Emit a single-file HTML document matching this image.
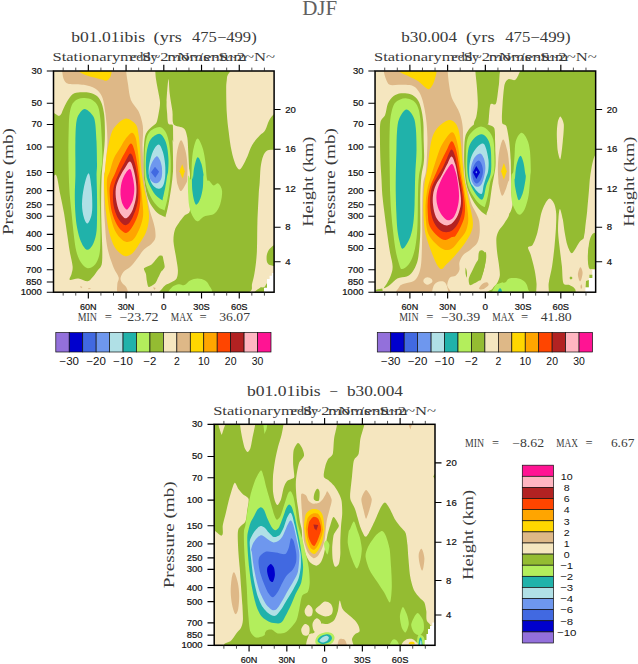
<!DOCTYPE html>
<html><head><meta charset="utf-8"><title>DJF</title>
<style>html,body{margin:0;padding:0;background:#fff;}body{width:638px;height:664px;overflow:hidden;font-family:"Liberation Sans",sans-serif;}svg{display:block}</style>
</head><body>
<svg width="638" height="664" viewBox="0 0 638 664">
<rect width="638" height="664" fill="#fff"/>
<text x="319.7" y="14.6" font-family='"Liberation Serif", serif' font-size="20" text-anchor="middle" fill="#606060" font-weight="normal" textLength="35" lengthAdjust="spacingAndGlyphs" >DJF</text>
<clipPath id="cp1"><rect x="53.5" y="71.0" width="220.60000000000002" height="221.2"/></clipPath>
<g clip-path="url(#cp1)">
<rect x="53.5" y="71.0" width="220.60000000000002" height="221.2" fill="#F5E6BF"/>
<path d="M155.0,62.2 C167.0,60.7 215.3,59.7 227.3,62.2 C239.3,64.7 227.1,72.9 227.0,77.3 C226.8,81.7 226.2,82.6 226.2,88.6 C226.2,94.5 226.4,105.8 226.8,113.0 C227.2,120.2 227.9,125.6 228.7,131.8 C229.4,138.1 230.4,145.3 231.5,150.6 C232.6,156.0 234.0,160.7 235.2,163.8 C236.5,166.9 237.7,169.1 239.0,169.4 C240.3,169.8 241.3,167.9 242.8,165.7 C244.2,163.5 245.9,159.7 247.5,156.3 C249.0,152.8 250.1,148.4 252.2,145.0 C254.2,141.5 257.5,138.1 259.7,135.6 C261.9,133.1 263.8,132.5 265.3,129.9 C266.9,127.4 267.6,123.2 269.1,120.5 C270.6,117.9 272.3,115.5 274.2,114.0 C276.1,112.4 279.3,105.2 280.4,111.1 C281.4,117.1 281.4,143.3 280.4,149.7 C279.3,156.1 276.4,149.5 274.2,149.7 C272.0,149.9 269.1,149.5 267.2,150.6 C265.4,151.7 264.2,153.5 263.1,156.3 C262.0,159.1 261.2,163.2 260.6,167.6 C260.1,172.0 260.0,178.1 259.7,182.6 C259.4,187.2 259.1,188.1 258.7,194.8 C258.4,201.5 257.7,213.6 257.4,223.0 C257.1,232.4 257.3,243.4 256.9,251.2 C256.5,259.1 255.8,264.7 255.0,270.0 C254.2,275.4 253.3,279.4 252.2,283.2 C251.0,287.0 254.0,290.4 248.0,292.6 C242.1,294.8 231.1,295.7 216.4,296.4 C201.8,297.0 169.7,296.8 160.0,296.4 C150.3,295.9 157.8,294.8 158.1,293.6 C158.4,292.3 160.6,290.3 161.9,288.9 C163.1,287.4 164.1,286.2 165.6,285.1 C167.2,284.0 169.5,283.4 171.3,282.3 C173.1,281.2 175.5,280.5 176.6,278.5 C177.6,276.5 178.0,273.6 177.9,270.0 C177.8,266.4 176.7,261.6 176.0,256.9 C175.3,252.2 173.8,246.2 173.5,241.8 C173.3,237.4 173.8,233.7 174.7,230.5 C175.5,227.4 177.2,225.5 178.8,223.0 C180.4,220.5 182.6,217.7 184.5,215.5 C186.3,213.3 189.2,214.8 190.1,209.9 C191.0,204.9 190.3,192.7 190.1,186.0 C189.9,179.3 190.4,175.3 189.2,169.4 C187.9,163.6 185.2,155.3 182.6,150.6 C179.9,145.9 175.7,144.7 173.2,141.2 C170.7,137.8 170.0,132.0 167.5,129.9 C165.0,127.9 160.2,129.6 158.2,129.0 C156.1,128.4 155.1,128.0 155.0,126.6 C154.8,125.2 156.6,122.8 157.2,120.5 C157.8,118.3 158.2,115.8 158.7,113.0 C159.2,110.2 160.0,106.4 160.0,103.6 C160.1,100.8 159.7,99.9 159.1,96.1 C158.5,92.3 156.9,85.1 156.3,81.0 C155.6,77.0 155.5,74.8 155.3,71.6 C155.1,68.5 143.0,63.8 155.0,62.2 Z" fill="#94BC32"/>
<path d="M168.5,79.2 C169.0,77.9 169.1,88.9 169.8,94.2 C170.4,99.5 171.8,106.3 172.4,111.1 C173.0,116.0 172.1,120.8 173.2,123.4 C174.2,125.9 176.9,125.6 178.8,126.6 C180.7,127.5 183.0,127.2 184.5,129.0 C185.9,130.8 186.6,133.9 187.3,137.5 C187.9,141.1 187.9,145.3 188.2,150.6 C188.5,156.0 188.8,163.6 189.2,169.4 C189.5,175.3 190.1,181.8 190.1,186.0 C190.1,190.2 189.5,191.5 189.2,194.8 C188.8,198.2 189.3,202.5 188.2,206.1 C187.1,209.7 185.4,214.7 182.6,216.4 C179.7,218.2 173.0,222.6 171.3,216.4 C169.6,210.3 172.0,187.3 172.4,179.8 C172.8,172.2 173.4,175.2 173.5,171.3 C173.7,167.4 173.6,161.3 173.5,156.3 C173.5,151.3 173.3,145.9 173.2,141.2 C173.1,136.5 173.1,130.8 173.0,128.1 C172.9,125.3 173.2,125.4 172.4,124.7 C171.6,123.9 169.2,125.5 168.3,123.6 C167.4,121.6 167.4,116.7 167.1,113.0 C166.9,109.4 166.4,107.4 166.6,101.7 C166.8,96.1 167.9,80.4 168.5,79.2 Z" fill="#F5E6BF"/>
<path d="M181.1,140.3 C182.4,140.3 184.4,146.7 185.4,150.6 C186.4,154.6 187.0,159.1 187.3,163.8 C187.6,168.5 187.5,175.6 187.3,178.9 C187.1,182.1 187.0,181.5 186.0,183.5 C184.9,185.6 182.4,190.7 181.1,191.0 C179.7,191.4 178.6,187.4 177.9,185.4 C177.1,183.4 176.9,182.1 176.6,178.9 C176.2,175.6 175.9,170.4 176.0,165.7 C176.1,161.0 176.5,154.9 177.3,150.6 C178.2,146.4 179.7,140.3 181.1,140.3 Z" fill="#DEB887"/>
<path d="M182.2,164.2 L184.8,171.3 L182.6,178.5 L179.4,171.3 Z" fill="#FFD700"/>
<path d="M197.6,138.4 C199.0,138.4 201.1,143.3 202.3,146.9 C203.6,150.5 204.4,154.7 205.1,160.0 C205.9,165.4 206.3,175.4 207.0,178.9 C207.7,182.3 208.2,179.6 209.3,180.7 C210.4,181.8 212.1,184.9 213.6,185.4 C215.1,185.9 216.9,182.6 218.3,183.5 C219.7,184.5 221.8,187.6 222.1,191.0 C222.4,194.5 221.4,200.5 220.2,204.2 C218.9,208.0 217.2,211.6 214.5,213.6 C211.9,215.7 207.2,215.2 204.2,216.4 C201.2,217.7 199.0,222.2 196.7,221.1 C194.3,220.0 191.5,214.2 190.1,209.9 C188.7,205.5 188.5,200.5 188.2,194.8 C187.9,189.2 187.7,178.7 188.2,176.0 C188.7,173.3 190.4,181.5 191.0,178.9 C191.7,176.2 191.5,165.4 192.0,160.0 C192.4,154.7 192.9,150.5 193.9,146.9 C194.8,143.3 196.2,138.4 197.6,138.4 Z" fill="#B3EE5C"/>
<path d="M197.6,157.2 C198.8,156.6 200.4,160.8 201.4,163.8 C202.4,166.8 203.3,173.1 203.6,175.1 C203.9,177.1 203.4,174.0 203.3,176.0 C203.1,178.0 203.4,183.5 202.9,187.3 C202.4,191.0 201.5,195.7 200.4,198.6 C199.4,201.5 197.7,204.1 196.7,204.6 C195.7,205.1 195.1,203.6 194.4,201.4 C193.7,199.1 192.8,195.3 192.4,191.0 C191.9,186.8 191.9,178.0 192.0,176.0 C192.1,174.0 192.5,180.3 192.9,178.9 C193.3,177.4 193.4,171.2 194.2,167.6 C195.0,164.0 196.4,157.8 197.6,157.2 Z" fill="#20B2AA"/>
<path d="M159.1,122.4 C156.7,122.5 154.7,124.3 152.5,126.2 C150.3,128.1 147.3,130.6 145.9,133.7 C144.5,136.8 144.5,140.6 144.0,145.0 C143.6,149.4 143.6,155.3 143.5,160.0 C143.4,164.7 143.4,169.9 143.5,173.2 C143.6,176.5 143.5,176.2 144.0,179.8 C144.6,183.4 145.8,190.7 146.9,194.8 C148.0,198.9 148.9,201.2 150.6,204.2 C152.4,207.2 154.9,210.6 157.2,212.7 C159.6,214.8 163.3,216.2 164.7,216.8 C166.1,217.4 165.0,218.5 165.6,216.4 C166.3,214.3 167.5,209.1 168.5,204.2 C169.4,199.4 170.5,192.8 171.3,187.3 C172.0,181.8 172.7,176.5 173.0,171.3 C173.3,166.2 173.0,161.3 173.0,156.3 C172.9,151.3 172.8,145.5 172.6,141.2 C172.4,137.0 172.6,133.5 171.7,130.9 C170.8,128.3 169.2,127.2 167.1,125.8 C165.1,124.4 161.5,122.4 159.1,122.4 Z" fill="#94BC32"/>
<path d="M159.1,127.1 C156.5,127.2 151.9,129.5 149.7,131.8 C147.5,134.2 146.8,137.2 145.9,141.2 C145.1,145.3 144.8,151.3 144.6,156.3 C144.4,161.3 144.5,167.6 144.6,171.3 C144.7,175.1 144.6,176.2 145.0,178.8 C145.4,181.5 145.8,184.0 146.9,187.3 C148.0,190.6 149.7,195.3 151.6,198.6 C153.4,201.9 156.1,205.2 158.2,207.0 C160.2,208.9 162.7,209.4 163.8,209.9 C164.9,210.3 164.1,211.7 164.7,209.9 C165.3,208.0 166.7,203.0 167.5,198.6 C168.4,194.2 169.2,188.1 169.8,183.5 C170.3,179.0 170.6,175.9 170.7,171.3 C170.8,166.8 170.9,161.3 170.5,156.3 C170.2,151.3 169.5,145.4 168.7,141.2 C167.8,137.1 166.9,133.8 165.3,131.5 C163.7,129.1 161.7,127.1 159.1,127.1 Z" fill="#B3EE5C"/>
<path d="M159.1,133.7 C156.8,133.9 152.7,136.5 150.6,139.4 C148.6,142.2 147.6,146.6 146.9,150.6 C146.1,154.7 146.0,159.9 145.9,163.8 C145.8,167.7 146.1,171.6 146.3,174.2 C146.5,176.7 146.5,176.9 147.1,178.8 C147.6,180.7 148.3,182.7 149.7,185.4 C151.1,188.1 153.3,192.4 155.3,194.8 C157.4,197.3 160.7,199.4 161.9,200.1 C163.2,200.7 162.3,200.7 162.8,198.6 C163.4,196.4 164.5,191.0 165.3,187.3 C166.0,183.5 166.7,178.7 167.1,176.0 C167.6,173.3 167.9,174.0 168.1,171.3 C168.3,168.7 168.6,164.1 168.5,160.0 C168.3,156.0 167.9,150.5 167.1,146.9 C166.4,143.3 165.5,140.6 164.1,138.4 C162.8,136.2 161.3,133.6 159.1,133.7 Z" fill="#20B2AA"/>
<path d="M158.7,144.5 C157.1,144.4 154.6,147.8 153.1,151.1 C151.5,154.4 150.0,160.5 149.3,164.3 C148.6,168.0 148.5,170.8 148.7,173.7 C149.0,176.5 149.7,179.0 150.6,181.2 C151.6,183.4 153.0,185.6 154.4,186.8 C155.8,188.1 157.7,188.9 159.1,188.7 C160.5,188.6 161.8,187.8 162.9,185.9 C163.9,184.0 164.7,181.0 165.1,177.4 C165.5,173.8 165.5,168.5 165.1,164.3 C164.7,160.0 163.9,155.3 162.9,152.0 C161.8,148.7 160.3,144.7 158.7,144.5 Z" fill="#B0E0E6"/>
<path d="M156.3,156.4 C155.0,157.1 152.7,160.7 151.6,163.3 C150.4,165.9 149.6,169.2 149.3,171.8 C149.1,174.4 149.2,177.1 150.1,178.9 C150.9,180.8 152.9,182.5 154.4,183.1 C155.9,183.6 157.8,183.3 159.1,182.1 C160.3,180.9 161.5,178.6 161.9,175.9 C162.4,173.3 162.1,168.9 161.7,166.1 C161.3,163.4 160.4,160.8 159.5,159.2 C158.6,157.6 157.6,155.7 156.3,156.4 Z" fill="#6E97EE"/>
<path d="M155.0,166.7 L159.1,171.8 L155.3,177.8 L151.0,172.2 Z" fill="#4169E1"/>
<path d="M48.1,115.8 C50.0,106.6 56.9,116.9 59.4,115.8 C61.9,114.7 61.9,111.6 63.2,109.3 C64.4,106.9 65.4,104.2 66.9,101.7 C68.5,99.2 70.4,95.8 72.6,94.2 C74.8,92.6 77.3,92.6 80.1,92.3 C82.9,92.1 86.7,92.1 89.5,92.7 C92.3,93.3 95.0,94.3 97.0,96.1 C99.1,97.9 100.5,100.5 101.7,103.6 C102.9,106.8 103.6,110.5 104.2,114.9 C104.7,119.3 104.9,124.9 104.9,129.9 C105.0,135.0 104.9,140.0 104.5,145.0 C104.2,150.0 103.5,154.9 103.0,160.0 C102.6,165.2 102.0,170.2 101.7,176.0 C101.4,181.8 101.3,188.5 101.2,194.8 C101.1,201.1 101.1,207.3 101.2,213.6 C101.3,219.9 101.5,226.2 101.7,232.4 C101.9,238.7 102.3,245.9 102.3,251.2 C102.3,256.6 102.4,261.3 101.7,264.4 C101.0,267.5 99.5,267.8 98.0,270.0 C96.4,272.2 94.0,275.7 92.3,277.6 C90.6,279.4 90.0,281.2 87.6,281.3 C85.3,281.5 81.2,278.8 78.2,278.5 C75.2,278.3 70.8,280.6 69.7,279.8 C68.7,279.0 71.2,276.1 71.6,273.8 C72.1,271.5 72.9,270.0 72.6,266.3 C72.3,262.5 70.7,256.9 69.7,251.2 C68.8,245.6 67.9,238.7 66.9,232.4 C66.0,226.2 65.2,219.9 64.1,213.6 C63.0,207.3 61.6,201.1 60.3,194.8 C59.1,188.5 57.8,179.1 56.6,176.0 C55.3,172.9 54.2,176.8 52.8,176.0 C51.4,175.3 48.9,181.4 48.1,171.3 C47.3,161.3 46.2,125.1 48.1,115.8 Z" fill="#94BC32"/>
<path d="M68.8,126.2 C69.0,119.9 69.1,116.8 69.7,113.0 C70.4,109.3 71.2,106.0 72.6,103.6 C74.0,101.3 76.2,99.9 78.2,98.9 C80.3,98.0 82.4,97.8 84.8,98.0 C87.1,98.1 90.1,98.4 92.3,99.9 C94.5,101.3 96.6,103.3 98.0,106.4 C99.3,109.6 99.8,113.5 100.4,118.7 C101.0,123.8 101.4,130.6 101.7,137.5 C102.0,144.4 102.5,153.6 102.3,160.0 C102.1,166.5 100.8,170.2 100.4,176.0 C100.0,181.8 99.8,187.0 99.8,194.8 C99.8,202.6 100.3,215.2 100.4,223.0 C100.5,230.9 100.6,236.5 100.4,241.8 C100.2,247.2 100.2,251.2 99.3,255.0 C98.4,258.8 97.1,262.2 95.1,264.4 C93.2,266.6 90.0,268.5 87.6,268.2 C85.3,267.8 82.9,265.3 81.0,262.5 C79.2,259.7 77.6,256.3 76.3,251.2 C75.1,246.2 74.3,238.7 73.5,232.4 C72.7,226.2 72.3,219.9 71.6,213.6 C71.0,207.3 70.2,201.1 69.7,194.8 C69.3,188.5 69.0,183.4 68.8,176.0 C68.6,168.6 68.4,158.9 68.4,150.6 C68.4,142.3 68.6,132.5 68.8,126.2 Z" fill="#B3EE5C"/>
<path d="M84.8,108.9 C87.0,109.0 90.6,112.6 92.3,114.9 C94.0,117.2 94.5,118.0 95.1,122.4 C95.8,126.8 96.1,134.3 96.5,141.2 C96.8,148.1 97.0,158.0 97.0,163.8 C97.1,169.6 96.6,170.8 96.6,176.0 C96.6,181.2 97.0,187.6 97.0,194.8 C97.1,202.0 97.2,212.7 97.0,219.3 C96.9,225.8 96.9,229.9 96.1,234.3 C95.3,238.7 93.9,243.0 92.3,245.6 C90.8,248.2 88.6,250.4 86.7,249.7 C84.8,249.1 82.6,245.3 81.0,241.8 C79.5,238.3 78.2,233.4 77.3,228.7 C76.3,224.0 75.8,219.3 75.4,213.6 C75.0,208.0 74.8,201.1 74.8,194.8 C74.8,188.5 75.3,181.8 75.4,176.0 C75.5,170.2 75.4,165.8 75.4,160.0 C75.4,154.2 75.2,147.5 75.4,141.2 C75.5,135.0 75.7,127.0 76.3,122.4 C77.0,117.9 77.7,116.2 79.2,114.0 C80.6,111.7 82.6,108.7 84.8,108.9 Z" fill="#20B2AA"/>
<path d="M88.6,173.2 C89.8,173.2 90.8,182.1 91.4,187.3 C92.0,192.5 92.3,199.5 92.3,204.2 C92.3,208.9 92.2,212.3 91.4,215.5 C90.6,218.7 88.9,223.1 87.6,223.4 C86.4,223.7 84.8,220.6 83.9,217.4 C82.9,214.2 82.0,209.2 82.0,204.2 C82.0,199.2 82.8,192.5 83.9,187.3 C85.0,182.1 87.3,173.2 88.6,173.2 Z" fill="#B0E0E6"/>
<path d="M62.2,66.0 C51.6,66.9 61.9,69.3 62.2,71.6 C62.5,74.0 63.0,78.1 64.1,80.1 C65.2,82.1 65.5,83.1 68.8,83.9 C72.1,84.7 79.5,84.0 83.9,84.8 C88.2,85.6 92.2,86.7 95.1,88.6 C98.1,90.5 100.2,93.0 101.7,96.1 C103.3,99.2 103.8,103.0 104.5,107.4 C105.3,111.8 106.0,116.8 106.4,122.4 C106.9,128.1 107.4,135.6 107.4,141.2 C107.4,146.9 106.8,151.3 106.4,156.3 C106.0,161.3 105.3,168.0 104.9,171.3 C104.5,174.6 104.1,170.5 104.0,176.0 C103.8,181.5 103.8,196.4 104.0,204.2 C104.1,212.1 104.5,216.8 104.9,223.0 C105.3,229.3 105.7,236.5 106.4,241.8 C107.1,247.2 108.0,250.6 109.2,255.0 C110.5,259.4 112.4,264.4 113.9,268.2 C115.5,271.9 118.1,274.9 118.7,277.6 C119.2,280.2 117.4,281.5 117.3,284.2 C117.2,286.8 116.4,292.0 118.1,293.6 C119.8,295.1 126.1,294.7 127.5,293.6 C128.8,292.5 127.0,288.7 126.2,287.0 C125.3,285.2 123.4,284.6 122.4,283.2 C121.5,281.8 120.4,280.4 120.5,278.5 C120.7,276.6 121.6,274.0 123.4,271.9 C125.1,269.9 128.4,268.8 130.9,266.3 C133.4,263.8 136.2,259.7 138.4,256.9 C140.6,254.1 141.8,251.5 144.0,249.4 C146.2,247.2 149.7,245.6 151.6,243.7 C153.4,241.8 154.8,240.6 155.3,238.1 C155.9,235.6 155.4,231.8 155.0,228.7 C154.5,225.5 153.4,222.4 152.5,219.3 C151.6,216.1 150.5,213.3 149.7,209.9 C148.8,206.4 148.2,202.6 147.4,198.6 C146.6,194.5 145.6,189.9 145.0,185.4 C144.3,180.9 143.8,176.2 143.5,171.3 C143.1,166.5 143.1,160.7 142.9,156.3 C142.8,151.9 142.5,149.2 142.5,145.0 C142.6,140.8 143.2,134.7 143.1,130.9 C143.0,127.1 142.9,125.7 142.2,122.4 C141.4,119.1 140.3,114.9 138.4,111.1 C136.5,107.4 132.6,104.2 130.9,99.9 C129.2,95.5 128.8,89.5 128.1,84.8 C127.3,80.1 126.5,74.8 126.2,71.6 C125.9,68.5 136.8,66.9 126.2,66.0 C115.5,65.1 72.9,65.1 62.2,66.0 Z" fill="#DEB887"/>
<path d="M79.2,66.0 C73.7,66.9 77.7,70.0 79.2,71.6 C80.6,73.3 84.0,74.5 87.6,75.8 C91.2,77.0 97.6,78.4 100.8,79.2 C103.9,80.0 104.9,81.0 106.4,80.7 C108.0,80.4 109.3,78.8 110.2,77.3 C111.1,75.8 111.4,73.5 111.7,71.6 C111.9,69.8 117.1,66.9 111.7,66.0 C106.3,65.1 84.6,65.1 79.2,66.0 Z" fill="#FFD700"/>
<path d="M125.2,118.7 C128.8,118.0 133.4,121.8 135.6,124.3 C137.8,126.8 137.7,129.9 138.4,133.7 C139.1,137.5 139.5,141.9 139.9,146.9 C140.3,151.9 140.5,159.0 140.8,163.8 C141.2,168.7 141.6,172.1 142.2,176.0 C142.7,179.9 143.3,183.2 144.0,187.3 C144.8,191.4 146.1,196.4 146.9,200.5 C147.6,204.5 148.4,208.3 148.7,211.7 C149.1,215.2 149.2,217.7 148.7,221.1 C148.3,224.6 147.5,228.7 145.9,232.4 C144.4,236.2 141.5,240.3 139.3,243.7 C137.1,247.2 134.8,251.1 132.8,253.1 C130.7,255.2 128.8,255.6 127.1,255.9 C125.4,256.3 124.5,256.4 122.4,255.0 C120.4,253.6 117.1,251.2 114.9,247.5 C112.7,243.7 110.7,238.1 109.2,232.4 C107.8,226.8 106.8,219.9 106.1,213.6 C105.3,207.3 104.9,200.5 104.5,194.8 C104.2,189.2 103.9,183.7 104.0,179.8 C104.0,175.8 104.5,175.2 104.9,171.3 C105.3,167.4 105.7,161.3 106.4,156.3 C107.1,151.3 108.0,145.9 109.2,141.2 C110.5,136.5 111.3,131.8 113.9,128.1 C116.6,124.3 121.6,119.3 125.2,118.7 Z" fill="#FFD700"/>
<path d="M131.8,132.8 C133.5,132.5 134.6,134.8 135.6,137.5 C136.5,140.1 136.8,144.4 137.5,148.8 C138.1,153.1 138.9,159.3 139.3,163.8 C139.8,168.3 139.8,172.1 140.1,176.0 C140.4,179.9 140.8,182.9 141.2,187.3 C141.6,191.7 142.2,197.6 142.5,202.3 C142.9,207.0 143.5,211.4 143.1,215.5 C142.7,219.6 141.7,223.0 140.3,226.8 C138.9,230.5 136.5,235.6 134.6,238.1 C132.8,240.6 131.0,241.5 129.0,241.8 C127.0,242.1 124.8,241.8 122.4,239.9 C120.1,238.1 117.0,234.9 114.9,230.5 C112.8,226.2 111.1,219.6 109.8,213.6 C108.6,207.7 107.8,200.5 107.4,194.8 C106.9,189.2 106.6,183.7 107.0,179.8 C107.4,175.8 108.7,174.9 109.8,171.3 C111.0,167.7 112.3,161.9 113.9,158.2 C115.6,154.4 117.7,151.9 119.6,148.8 C121.5,145.6 123.2,142.0 125.2,139.4 C127.3,136.7 130.1,133.1 131.8,132.8 Z" fill="#FFA500"/>
<path d="M130.9,143.6 C132.4,143.4 133.5,147.3 134.6,151.1 C135.7,154.9 136.6,160.5 137.5,166.1 C138.3,171.8 139.4,179.3 139.9,184.9 C140.4,190.6 140.5,195.3 140.3,200.0 C140.0,204.7 139.5,209.1 138.4,213.2 C137.3,217.2 135.4,221.3 133.7,224.4 C132.0,227.6 129.8,230.7 128.1,232.0 C126.3,233.2 125.2,233.2 123.4,232.0 C121.5,230.7 118.7,227.9 116.8,224.4 C114.8,221.0 112.9,216.0 111.7,211.3 C110.5,206.6 110.1,200.6 109.8,196.2 C109.6,191.8 109.3,188.7 110.2,184.9 C111.0,181.2 113.3,177.4 114.9,173.7 C116.5,169.9 117.9,166.0 119.6,162.4 C121.3,158.8 123.4,155.2 125.2,152.0 C127.1,148.9 129.3,143.7 130.9,143.6 Z" fill="#FF4500"/>
<path d="M130.5,153.4 C132.1,153.5 133.5,158.4 134.6,162.4 C135.8,166.4 136.8,172.1 137.5,177.4 C138.1,182.8 138.5,189.7 138.4,194.4 C138.3,199.1 137.8,201.9 136.9,205.6 C136.0,209.4 134.2,213.9 132.8,216.9 C131.3,220.0 129.6,222.8 128.1,224.1 C126.5,225.3 125.1,225.6 123.4,224.4 C121.6,223.3 119.0,220.1 117.3,216.9 C115.7,213.8 114.3,209.7 113.6,205.6 C112.9,201.6 112.8,196.2 113.0,192.5 C113.2,188.7 113.8,186.5 114.9,183.1 C116.0,179.6 117.9,175.4 119.6,171.8 C121.3,168.2 123.4,164.5 125.2,161.4 C127.1,158.4 128.9,153.2 130.5,153.4 Z" fill="#B22222"/>
<path d="M129.9,161.4 C131.5,161.6 132.7,166.3 133.7,169.9 C134.7,173.5 135.7,178.7 136.1,183.1 C136.6,187.5 136.7,191.8 136.1,196.2 C135.6,200.6 134.1,206.0 132.8,209.4 C131.4,212.8 129.5,215.5 128.1,216.9 C126.6,218.3 125.8,218.8 124.3,217.9 C122.8,216.9 120.6,214.3 119.2,211.3 C117.9,208.3 116.8,203.8 116.2,200.0 C115.6,196.2 115.4,192.2 115.8,188.7 C116.2,185.3 117.2,182.6 118.7,179.3 C120.1,176.0 122.4,171.9 124.3,169.0 C126.2,166.0 128.4,161.3 129.9,161.4 Z" fill="#FFB6C1"/>
<path d="M129.9,169.0 C131.3,169.3 132.0,174.1 132.8,177.4 C133.5,180.7 134.3,184.9 134.3,188.7 C134.3,192.5 133.6,196.9 132.8,200.0 C131.9,203.1 130.1,206.0 129.0,207.5 C127.9,209.1 127.3,210.0 126.2,209.4 C125.1,208.8 123.4,206.3 122.4,203.8 C121.5,201.3 120.8,197.5 120.5,194.4 C120.3,191.2 120.5,188.1 121.1,184.9 C121.7,181.8 122.8,178.2 124.3,175.5 C125.8,172.9 128.5,168.6 129.9,169.0 Z" fill="#FF1493"/>
<path d="M144.0,268.2 C144.7,267.1 149.8,265.8 151.6,264.4 C153.3,263.0 157.8,256.8 159.1,255.9 C160.4,255.1 162.3,255.7 162.9,256.9 C163.4,258.1 163.9,266.5 163.8,266.3 C163.7,266.1 162.2,255.0 162.3,255.0 C162.4,255.0 164.6,264.5 164.7,266.3 C164.8,268.0 163.3,269.4 162.8,270.0 C162.4,270.7 161.5,271.0 161.0,271.9 C160.4,272.8 158.8,276.3 158.2,277.6 C157.5,278.9 156.4,282.1 155.3,283.2 C154.2,284.3 149.7,287.2 148.7,287.0 C147.8,286.8 147.2,282.9 146.9,281.3 C146.5,279.8 146.3,275.3 145.9,273.8 C145.6,272.3 143.4,269.3 144.0,268.2 Z" fill="#94BC32"/>
<path d="M171.3,293.6 C165.1,292.5 171.0,288.5 172.2,287.0 C173.5,285.4 176.8,284.5 178.8,284.2 C180.8,283.8 182.6,285.7 184.5,285.1 C186.3,284.5 187.9,281.5 190.1,280.4 C192.3,279.3 195.1,278.5 197.6,278.5 C200.1,278.5 203.3,279.3 205.1,280.4 C207.0,281.5 208.2,282.9 208.9,285.1 C209.6,287.3 215.5,292.1 209.3,293.6 C203.0,295.0 177.5,294.7 171.3,293.6 Z" fill="#B3EE5C"/>
<path d="M276.6,245.6 C275.5,242.9 271.7,246.8 270.0,248.4 C268.4,250.0 267.3,252.6 266.8,255.0 C266.4,257.3 266.5,260.8 267.2,262.5 C267.9,264.2 269.4,265.0 271.0,265.3 C272.5,265.7 275.7,267.7 276.6,264.4 C277.6,261.1 277.7,248.3 276.6,245.6 Z" fill="#94BC32"/>
<path d="M255.0,293.6 C252.2,292.6 258.1,289.0 259.7,287.9 C261.3,286.8 263.0,287.9 264.4,287.0 C265.8,286.0 266.1,283.2 268.2,282.3 C270.2,281.3 275.2,279.4 276.6,281.3 C278.0,283.2 280.2,291.5 276.6,293.6 C273.0,295.6 257.8,294.5 255.0,293.6 Z" fill="#94BC32"/>
<path d="M271.9,272.9 L276.0,272.9 L276.0,294.0 L264.0,294.0 L264.0,287.8 L267.0,287.8 L267.0,279.0 L269.6,279.0 L269.6,275.7 L271.9,275.7 Z" fill="#fff"/>
<path d="M80.1,286.0 L82.4,287.0 L81.0,288.3 Z" fill="#DEB887"/>
<path d="M88.2,287.9 L91.4,288.5 L88.6,289.2 Z" fill="#DEB887"/>
<path d="M153.1,287.3 L155.7,288.1 L154.4,290.0 Z" fill="#DEB887"/>
</g>
<rect x="53.5" y="71.0" width="220.60000000000002" height="221.2" fill="none" stroke="#000" stroke-width="1.5"/>
<path d="M239.26,292.2 v6.3 M239.26,71.0 v-6.3 M201.53,292.2 v6.3 M201.53,71.0 v-6.3 M163.80,292.2 v6.3 M163.80,71.0 v-6.3 M126.07,292.2 v6.3 M126.07,71.0 v-6.3 M88.34,292.2 v6.3 M88.34,71.0 v-6.3 M53.5,71.00 h-6.7 M53.5,103.22 h-6.7 M53.5,124.45 h-6.7 M53.5,146.95 h-6.7 M53.5,172.53 h-6.7 M53.5,190.67 h-6.7 M53.5,204.75 h-6.7 M53.5,216.25 h-6.7 M53.5,234.40 h-6.7 M53.5,248.48 h-6.7 M53.5,269.70 h-6.7 M53.5,281.95 h-6.7 M53.5,292.20 h-6.7 M274.1,109.50 h6.5 M274.1,149.20 h6.5 M274.1,188.90 h6.5 M274.1,227.20 h6.5 M274.1,261.70 h6.5" stroke="#000" stroke-width="1.15" fill="none"/>
<path d="M264.42,292.2 v3.4 M264.42,71.0 v-3.4 M251.84,292.2 v3.4 M251.84,71.0 v-3.4 M226.68,292.2 v3.4 M226.68,71.0 v-3.4 M214.11,292.2 v3.4 M214.11,71.0 v-3.4 M188.95,292.2 v3.4 M188.95,71.0 v-3.4 M176.38,292.2 v3.4 M176.38,71.0 v-3.4 M151.22,292.2 v3.4 M151.22,71.0 v-3.4 M138.65,292.2 v3.4 M138.65,71.0 v-3.4 M113.49,292.2 v3.4 M113.49,71.0 v-3.4 M100.92,292.2 v3.4 M100.92,71.0 v-3.4 M75.76,292.2 v3.4 M75.76,71.0 v-3.4 M63.18,292.2 v3.4 M63.18,71.0 v-3.4" stroke="#222" stroke-width="0.8" fill="none"/>
<text x="41.9" y="74.0" font-family='"Liberation Sans", sans-serif' font-size="8.4" text-anchor="end" fill="#111" font-weight="normal" textLength="10.5" lengthAdjust="spacingAndGlyphs" stroke="#111" stroke-width="0.2">30</text>
<text x="41.9" y="106.22380216890116" font-family='"Liberation Sans", sans-serif' font-size="8.4" text-anchor="end" fill="#111" font-weight="normal" textLength="10.5" lengthAdjust="spacingAndGlyphs" stroke="#111" stroke-width="0.2">50</text>
<text x="41.9" y="127.44907804342657" font-family='"Liberation Sans", sans-serif' font-size="8.4" text-anchor="end" fill="#111" font-weight="normal" textLength="10.5" lengthAdjust="spacingAndGlyphs" stroke="#111" stroke-width="0.2">70</text>
<text x="41.9" y="149.94877715278596" font-family='"Liberation Sans", sans-serif' font-size="8.4" text-anchor="end" fill="#111" font-weight="normal" textLength="15.8" lengthAdjust="spacingAndGlyphs" stroke="#111" stroke-width="0.2">100</text>
<text x="41.9" y="175.52624786332922" font-family='"Liberation Sans", sans-serif' font-size="8.4" text-anchor="end" fill="#111" font-weight="normal" textLength="15.8" lengthAdjust="spacingAndGlyphs" stroke="#111" stroke-width="0.2">150</text>
<text x="41.9" y="193.67375213667077" font-family='"Liberation Sans", sans-serif' font-size="8.4" text-anchor="end" fill="#111" font-weight="normal" textLength="15.8" lengthAdjust="spacingAndGlyphs" stroke="#111" stroke-width="0.2">200</text>
<text x="41.9" y="207.75005003223038" font-family='"Liberation Sans", sans-serif' font-size="8.4" text-anchor="end" fill="#111" font-weight="normal" textLength="15.8" lengthAdjust="spacingAndGlyphs" stroke="#111" stroke-width="0.2">250</text>
<text x="41.9" y="219.25122284721402" font-family='"Liberation Sans", sans-serif' font-size="8.4" text-anchor="end" fill="#111" font-weight="normal" textLength="15.8" lengthAdjust="spacingAndGlyphs" stroke="#111" stroke-width="0.2">300</text>
<text x="41.9" y="237.39872712055558" font-family='"Liberation Sans", sans-serif' font-size="8.4" text-anchor="end" fill="#111" font-weight="normal" textLength="15.8" lengthAdjust="spacingAndGlyphs" stroke="#111" stroke-width="0.2">400</text>
<text x="41.9" y="251.47502501611518" font-family='"Liberation Sans", sans-serif' font-size="8.4" text-anchor="end" fill="#111" font-weight="normal" textLength="15.8" lengthAdjust="spacingAndGlyphs" stroke="#111" stroke-width="0.2">500</text>
<text x="41.9" y="272.7003008906406" font-family='"Liberation Sans", sans-serif' font-size="8.4" text-anchor="end" fill="#111" font-weight="normal" textLength="15.8" lengthAdjust="spacingAndGlyphs" stroke="#111" stroke-width="0.2">700</text>
<text x="41.9" y="284.948012650131" font-family='"Liberation Sans", sans-serif' font-size="8.4" text-anchor="end" fill="#111" font-weight="normal" textLength="15.8" lengthAdjust="spacingAndGlyphs" stroke="#111" stroke-width="0.2">850</text>
<text x="41.9" y="295.2" font-family='"Liberation Sans", sans-serif' font-size="8.4" text-anchor="end" fill="#111" font-weight="normal" textLength="21.1" lengthAdjust="spacingAndGlyphs" stroke="#111" stroke-width="0.2">1000</text>
<text x="285.20000000000005" y="112.55" font-family='"Liberation Sans", sans-serif' font-size="8.6" text-anchor="start" fill="#111" font-weight="normal" textLength="10.6" lengthAdjust="spacingAndGlyphs" stroke="#111" stroke-width="0.2">20</text>
<text x="285.20000000000005" y="152.25" font-family='"Liberation Sans", sans-serif' font-size="8.6" text-anchor="start" fill="#111" font-weight="normal" textLength="10.6" lengthAdjust="spacingAndGlyphs" stroke="#111" stroke-width="0.2">16</text>
<text x="285.20000000000005" y="191.95000000000002" font-family='"Liberation Sans", sans-serif' font-size="8.6" text-anchor="start" fill="#111" font-weight="normal" textLength="10.6" lengthAdjust="spacingAndGlyphs" stroke="#111" stroke-width="0.2">12</text>
<text x="285.20000000000005" y="230.25" font-family='"Liberation Sans", sans-serif' font-size="8.6" text-anchor="start" fill="#111" font-weight="normal" textLength="5.3" lengthAdjust="spacingAndGlyphs" stroke="#111" stroke-width="0.2">8</text>
<text x="285.20000000000005" y="264.75" font-family='"Liberation Sans", sans-serif' font-size="8.6" text-anchor="start" fill="#111" font-weight="normal" textLength="5.3" lengthAdjust="spacingAndGlyphs" stroke="#111" stroke-width="0.2">4</text>
<text x="88.33819840364882" y="310.3" font-family='"Liberation Sans", sans-serif' font-size="8.8" text-anchor="middle" fill="#111" font-weight="normal" textLength="16.6" lengthAdjust="spacingAndGlyphs" stroke="#111" stroke-width="0.2">60N</text>
<text x="126.06909920182441" y="310.3" font-family='"Liberation Sans", sans-serif' font-size="8.8" text-anchor="middle" fill="#111" font-weight="normal" textLength="16.6" lengthAdjust="spacingAndGlyphs" stroke="#111" stroke-width="0.2">30N</text>
<text x="163.8" y="310.3" font-family='"Liberation Sans", sans-serif' font-size="8.8" text-anchor="middle" fill="#111" font-weight="normal" textLength="5.5" lengthAdjust="spacingAndGlyphs" stroke="#111" stroke-width="0.2">0</text>
<text x="201.5309007981756" y="310.3" font-family='"Liberation Sans", sans-serif' font-size="8.8" text-anchor="middle" fill="#111" font-weight="normal" textLength="16.6" lengthAdjust="spacingAndGlyphs" stroke="#111" stroke-width="0.2">30S</text>
<text x="239.2618015963512" y="310.3" font-family='"Liberation Sans", sans-serif' font-size="8.8" text-anchor="middle" fill="#111" font-weight="normal" textLength="16.6" lengthAdjust="spacingAndGlyphs" stroke="#111" stroke-width="0.2">60S</text>
<text x="0" y="0" font-family='"Liberation Serif", serif' font-size="15" text-anchor="middle" fill="#3a3a3a" font-weight="normal" textLength="107" lengthAdjust="spacingAndGlyphs" transform="translate(13.0,181.6) rotate(-90)">Pressure (mb)</text>
<text x="0" y="0" font-family='"Liberation Serif", serif' font-size="15" text-anchor="middle" fill="#3a3a3a" font-weight="normal" textLength="90" lengthAdjust="spacingAndGlyphs" transform="translate(312.5,181.6) rotate(-90)">Height (km)</text>
<text x="71.3" y="42.4" font-family='"Liberation Serif", serif' font-size="14.5" text-anchor="start" fill="#3a3a3a" font-weight="normal" textLength="73.7" lengthAdjust="spacingAndGlyphs" >b01.01ibis</text>
<text x="153.6" y="42.4" font-family='"Liberation Serif", serif' font-size="14.5" text-anchor="start" fill="#3a3a3a" font-weight="normal" textLength="28.3" lengthAdjust="spacingAndGlyphs" >(yrs</text>
<text x="192" y="42.4" font-family='"Liberation Serif", serif' font-size="14.5" text-anchor="start" fill="#3a3a3a" font-weight="normal" textLength="64.7" lengthAdjust="spacingAndGlyphs" >475−499)</text>
<text x="52.5" y="61.4" font-family='"Liberation Serif", serif' font-size="13.5" text-anchor="start" fill="#3a3a3a" font-weight="normal" textLength="67.8" lengthAdjust="spacingAndGlyphs" >Stationary</text>
<text x="130.0" y="61.4" font-family='"Liberation Serif", serif' font-size="13.5" text-anchor="start" fill="#3a3a3a" font-weight="normal" textLength="27.5" lengthAdjust="spacingAndGlyphs" >eddy</text>
<text x="167.3" y="61.4" font-family='"Liberation Serif", serif' font-size="13.5" text-anchor="start" fill="#3a3a3a" font-weight="normal" textLength="79.6" lengthAdjust="spacingAndGlyphs" >momentum</text>
<text x="275.1" y="61.4" font-family='"Liberation Serif", serif' font-size="13.5" text-anchor="end" fill="#3a3a3a" font-weight="normal" textLength="155" lengthAdjust="spacingAndGlyphs" >m~S~2~N~/s~S~2~N~</text>
<clipPath id="cp2"><rect x="375.05" y="71.0" width="220.59999999999997" height="221.2"/></clipPath>
<g clip-path="url(#cp2)">
<rect x="375.05" y="71.0" width="220.59999999999997" height="221.2" fill="#F5E6BF"/>
<path d="M475.4,62.2 C455.9,63.5 475.2,68.3 475.4,71.6 C475.6,75.0 476.3,80.0 476.7,84.8 C477.1,89.6 477.9,98.8 477.8,103.6 C477.8,108.4 476.9,114.0 476.3,116.8 C475.8,119.6 474.2,120.7 474.1,122.4 C473.9,124.1 473.2,126.8 475.4,128.1 C477.5,129.3 485.8,129.2 488.5,130.9 C491.2,132.6 492.3,135.5 493.2,139.4 C494.1,143.2 494.3,151.5 494.5,156.3 C494.8,161.1 494.9,168.4 495.1,171.3 C495.3,174.3 494.8,171.1 496.0,176.0 C497.3,180.9 501.6,198.6 503.6,204.2 C505.5,209.9 509.1,210.8 509.2,213.6 C509.4,216.4 506.1,220.5 504.5,223.0 C503.0,225.6 500.1,228.3 498.9,230.5 C497.7,232.8 496.7,235.0 496.4,238.1 C496.1,241.2 496.6,247.3 497.0,251.2 C497.4,255.2 498.4,260.7 498.9,264.4 C499.3,268.1 500.1,272.9 499.8,275.7 C499.5,278.5 498.1,281.2 497.0,283.2 C495.9,285.2 493.3,286.9 492.3,288.9 C491.3,290.8 473.5,295.2 490.4,296.4 C507.3,297.5 587.9,331.4 605.1,296.4 C622.3,261.4 624.6,98.3 605.1,63.1 C585.7,28.0 494.9,61.0 475.4,62.2 Z" fill="#94BC32"/>
<path d="M501.7,67.9 C504.4,65.6 517.3,67.0 519.6,67.9 C521.8,68.8 519.2,72.8 518.6,74.5 C518.0,76.1 516.2,79.5 514.9,80.1 C513.5,80.7 509.7,78.5 508.3,79.2 C506.9,79.8 505.3,81.5 504.5,84.8 C503.8,88.1 503.0,98.6 502.6,103.6 C502.3,108.6 501.6,119.4 502.1,122.4 C502.6,125.4 505.4,123.7 506.4,126.2 C507.3,128.7 508.6,136.7 509.2,141.2 C509.8,145.7 510.5,155.0 510.7,160.0 C511.0,165.1 511.0,174.7 511.1,178.9 C511.1,183.0 510.9,187.7 511.1,191.0 C511.3,194.4 512.8,201.2 512.6,204.2 C512.3,207.2 510.9,212.0 509.2,213.6 C507.5,215.2 502.8,216.4 499.8,216.4 C496.8,216.4 488.0,215.2 486.6,213.6 C485.3,212.0 488.8,207.7 489.5,204.2 C490.2,200.7 491.2,190.7 491.9,187.3 C492.6,183.9 494.1,182.5 494.5,178.9 C495.0,175.2 495.2,165.1 495.3,160.0 C495.4,155.0 495.3,145.5 495.1,141.2 C495.0,137.0 495.2,130.3 494.2,128.1 C493.2,125.8 488.3,125.1 487.6,124.3 C486.8,123.6 488.1,125.1 488.5,122.4 C488.9,119.8 489.4,107.1 490.4,104.6 C491.4,102.1 494.9,106.3 496.0,103.6 C497.2,101.0 498.1,89.6 498.9,84.8 C499.6,80.0 498.9,70.1 501.7,67.9 Z" fill="#F5E6BF"/>
<path d="M503.2,139.4 C504.5,139.4 506.3,146.3 507.3,150.6 C508.3,155.0 508.9,161.0 509.2,165.7 C509.5,170.4 509.4,176.2 509.2,178.9 C509.1,181.5 508.9,179.8 508.3,181.6 C507.6,183.5 506.5,187.8 505.5,190.1 C504.4,192.5 503.2,196.5 502.1,195.7 C501.0,195.0 499.5,188.2 498.9,185.4 C498.2,182.6 498.5,182.1 498.3,178.9 C498.1,175.6 497.7,170.4 497.9,165.7 C498.1,161.0 498.6,155.0 499.4,150.6 C500.3,146.3 501.9,139.4 503.2,139.4 Z" fill="#DEB887"/>
<path d="M503.9,162.9 L506.8,171.3 L503.9,179.8 L501.1,171.3 Z" fill="#FFD700"/>
<path d="M521.4,132.8 C523.3,132.5 525.7,136.4 527.1,139.4 C528.5,142.3 529.3,145.6 529.9,150.6 C530.5,155.7 530.8,165.2 530.8,169.4 C530.9,173.7 530.5,173.0 530.3,176.0 C530.1,179.0 529.9,183.5 529.5,187.3 C529.2,191.0 528.9,194.8 528.0,198.6 C527.1,202.3 525.8,207.2 524.3,209.9 C522.7,212.5 520.6,215.5 518.6,214.6 C516.7,213.6 513.9,208.1 512.6,204.2 C511.3,200.3 511.3,195.7 511.1,191.0 C510.9,186.3 511.1,179.3 511.5,176.0 C511.8,172.7 512.8,174.6 513.4,171.3 C513.9,168.0 514.1,161.3 514.5,156.3 C514.9,151.3 514.6,145.2 515.8,141.2 C517.0,137.3 519.6,133.1 521.4,132.8 Z" fill="#B3EE5C"/>
<path d="M520.1,155.9 C521.3,155.3 522.5,159.0 523.3,161.9 C524.2,164.8 524.8,170.9 525.2,173.2 C525.6,175.6 525.8,174.6 525.8,176.0 C525.8,177.4 525.7,178.8 525.2,181.6 C524.7,184.5 523.9,189.9 522.8,192.9 C521.7,196.0 519.9,201.0 518.6,200.1 C517.4,199.1 515.9,191.3 515.2,187.3 C514.5,183.3 514.5,177.4 514.5,176.0 C514.4,174.6 514.5,180.6 514.9,178.9 C515.2,177.1 515.5,169.5 516.4,165.7 C517.2,161.9 519.0,156.5 520.1,155.9 Z" fill="#20B2AA"/>
<path d="M560.4,116.4 C561.2,116.7 563.4,121.0 563.8,124.3 C564.1,127.6 563.3,136.6 562.8,141.2 C562.4,145.9 561.1,157.8 560.4,159.1 C559.7,160.4 558.2,154.0 557.7,150.6 C557.3,147.3 556.8,137.5 556.8,133.7 C556.8,129.9 557.3,124.7 557.7,122.4 C558.2,120.1 559.6,116.2 560.4,116.4 Z" fill="#F5E6BF"/>
<path d="M601.4,148.8 C600.4,134.2 596.9,151.9 595.4,154.4 C593.9,156.9 593.2,160.0 592.3,163.8 C591.5,167.6 590.7,172.6 590.1,177.0 C589.5,181.3 589.5,184.1 589.0,189.9 C588.5,195.7 587.7,205.1 587.1,211.7 C586.4,218.4 585.4,225.0 585.0,230.0 C584.7,235.0 582.3,239.9 585.0,241.8 C587.7,243.8 598.6,257.3 601.4,241.8 C604.1,226.3 602.4,163.3 601.4,148.8 Z" fill="#F5E6BF"/>
<path d="M549.7,198.6 C548.2,198.6 546.2,202.0 544.9,204.2 C543.7,206.5 542.3,209.4 541.2,213.6 C540.1,217.8 538.7,227.8 537.4,232.4 C536.2,237.1 534.1,242.4 532.7,244.7 C531.3,246.9 528.3,245.9 528.0,247.5 C527.7,249.0 529.9,251.6 530.8,255.0 C531.8,258.4 533.8,265.8 534.6,270.0 C535.5,274.3 536.1,279.3 536.5,283.2 C536.9,287.2 535.3,294.4 537.1,296.4 C538.8,298.4 546.4,298.4 548.1,296.4 C549.9,294.4 548.1,287.7 548.7,283.2 C549.3,278.7 551.3,271.6 552.1,266.3 C552.9,260.9 553.8,253.1 554.4,247.5 C554.9,241.8 555.6,233.7 555.9,228.7 C556.1,223.6 556.5,217.3 556.2,213.6 C556.0,209.9 555.3,206.5 554.4,204.2 C553.4,202.0 551.1,198.6 549.7,198.6 Z" fill="#F5E6BF"/>
<path d="M560.0,208.9 C559.3,208.6 558.8,213.9 558.5,217.4 C558.2,220.9 557.9,227.9 558.1,232.4 C558.3,236.9 559.1,242.4 559.6,247.5 C560.2,252.6 561.3,260.9 561.9,266.3 C562.4,271.6 562.3,280.4 563.4,283.2 C564.5,286.0 567.7,284.2 569.4,285.1 C571.2,285.9 573.6,287.2 575.0,288.9 C576.5,290.5 574.3,295.2 578.8,296.4 C583.3,297.5 601.2,300.3 605.1,296.4 C609.1,292.4 606.8,274.1 605.1,270.0 C603.4,266.0 596.3,269.4 593.9,269.1 C591.5,268.8 590.1,270.0 589.2,268.2 C588.2,266.3 587.8,260.3 587.8,256.9 C587.8,253.5 588.5,248.4 589.2,245.6 C589.8,242.8 592.0,239.8 592.0,238.1 C592.0,236.4 590.3,234.3 589.2,234.3 C588.0,234.3 585.9,236.9 584.4,238.1 C583.0,239.2 581.2,240.1 579.7,241.8 C578.3,243.5 576.3,247.7 575.0,249.4 C573.8,251.0 572.4,253.7 571.3,253.1 C570.2,252.6 568.5,248.7 567.5,245.6 C566.5,242.5 565.4,236.4 564.7,232.4 C564.0,228.5 563.5,222.8 562.8,219.3 C562.1,215.7 560.6,209.2 560.0,208.9 Z" fill="#F5E6BF"/>
<path d="M601.4,231.5 C600.4,225.4 596.9,231.9 595.4,232.4 C593.8,233.0 593.0,233.1 592.0,234.7 C591.0,236.3 590.0,238.4 589.3,241.8 C588.7,245.2 588.1,251.0 588.0,255.0 C588.0,259.0 588.2,263.6 589.2,265.9 C590.1,268.2 591.8,268.3 593.9,268.7 C595.9,269.2 600.1,274.9 601.4,268.7 C602.6,262.5 602.4,237.5 601.4,231.5 Z" fill="#94BC32"/>
<path d="M580.3,267.2 C581.1,266.9 582.6,270.5 582.6,272.9 C582.6,275.2 581.1,281.0 580.3,281.3 C579.5,281.6 577.9,277.1 577.9,274.7 C577.9,272.4 579.5,267.5 580.3,267.2 Z" fill="#DEB887"/>
<path d="M581.3,284.2 C581.5,284.2 582.2,286.2 582.2,287.0 C582.2,287.8 581.3,288.9 581.1,288.9 C580.8,288.8 580.5,287.4 580.5,286.6 C580.5,285.8 581.0,284.1 581.3,284.2 Z" fill="#DEB887"/>
<path d="M570.9,276.6 C571.4,276.6 572.4,277.6 572.4,278.1 C572.4,278.6 571.4,279.6 570.9,279.6 C570.4,279.6 569.6,278.6 569.6,278.1 C569.6,277.6 570.4,276.6 570.9,276.6 Z" fill="#94BC32"/>
<path d="M592.3,270.1 L597.0,270.1 L597.0,294.0 L585.4,294.0 L585.4,287.3 L588.8,287.3 L588.8,278.0 L592.3,278.0 Z" fill="#fff"/>
<path d="M589.4,274.8 L592.3,274.8 L592.3,278.0 L589.4,278.0 Z" fill="#94BC32"/>
<path d="M586.0,281.0 L588.8,280.0 L588.8,287.3 L585.6,287.3 Z" fill="#94BC32"/>
<path d="M494.2,296.4 C488.6,294.7 494.2,288.2 495.1,286.0 C496.0,283.8 498.1,283.8 499.8,283.2 C501.5,282.6 503.9,283.1 505.5,282.3 C507.0,281.5 507.0,279.1 509.2,278.5 C511.4,277.9 516.0,277.9 518.6,278.5 C521.3,279.1 523.6,280.5 525.2,282.3 C526.8,284.0 527.5,286.5 528.0,288.9 C528.6,291.2 534.0,295.1 528.4,296.4 C522.8,297.6 499.7,298.1 494.2,296.4 Z" fill="#B3EE5C"/>
<path d="M497.2,296.4 C496.6,295.1 498.2,290.0 498.9,288.9 C499.6,287.7 500.7,288.0 501.3,289.2 C501.9,290.5 503.1,295.2 502.4,296.4 C501.8,297.6 497.8,297.6 497.2,296.4 Z" fill="#20B2AA"/>
<path d="M480.1,121.9 C477.6,121.2 476.0,123.1 474.1,124.4 C472.2,125.6 470.3,127.2 468.8,129.5 C467.3,131.7 465.8,133.7 465.0,137.9 C464.3,142.2 464.2,149.2 464.1,154.9 C464.0,160.5 464.2,166.5 464.7,171.8 C465.1,177.1 465.6,182.1 466.9,186.8 C468.2,191.5 470.4,196.1 472.6,200.0 C474.8,203.9 477.8,207.8 480.1,210.3 C482.3,212.8 485.0,214.5 486.1,215.0 C487.2,215.6 486.1,215.4 486.6,213.6 C487.2,211.8 488.6,208.6 489.5,204.2 C490.3,199.8 491.0,193.1 491.9,187.3 C492.8,181.5 494.5,174.6 495.1,169.5 C495.7,164.3 495.5,161.3 495.3,156.3 C495.1,151.3 494.8,143.9 493.8,139.4 C492.7,134.8 491.2,131.9 488.9,129.0 C486.6,126.1 482.6,122.7 480.1,121.9 Z" fill="#94BC32"/>
<path d="M481.0,126.6 C478.4,126.7 474.9,129.2 472.6,131.3 C470.3,133.5 468.4,135.9 467.3,139.8 C466.2,143.7 466.2,149.5 466.0,154.9 C465.8,160.2 465.7,166.8 466.0,171.8 C466.3,176.8 466.8,181.0 467.9,184.9 C469.0,188.9 470.7,192.2 472.6,195.3 C474.4,198.4 477.1,201.8 479.2,203.8 C481.2,205.7 483.8,206.8 484.8,207.1 C485.8,207.5 484.6,208.1 485.1,206.1 C485.7,204.0 487.3,198.9 488.1,194.8 C489.0,190.7 489.4,185.6 490.4,181.6 C491.4,177.7 493.5,175.6 494.2,171.3 C494.8,167.1 494.7,161.6 494.5,156.3 C494.4,151.0 494.2,143.6 493.2,139.4 C492.2,135.1 490.5,133.0 488.5,130.9 C486.5,128.8 483.7,126.6 481.0,126.6 Z" fill="#B3EE5C"/>
<path d="M481.0,134.2 C478.8,134.4 475.5,136.7 473.5,138.9 C471.5,141.1 469.8,143.7 468.8,147.3 C467.8,150.9 467.5,155.8 467.3,160.5 C467.1,165.2 467.3,171.5 467.9,175.5 C468.4,179.6 469.4,182.0 470.7,184.9 C471.9,187.9 473.7,191.0 475.4,193.4 C477.1,195.9 479.6,199.1 481.0,199.6 C482.4,200.2 482.9,199.1 483.8,196.7 C484.7,194.3 485.2,189.0 486.3,185.4 C487.4,181.8 489.6,178.7 490.4,175.1 C491.2,171.5 491.3,168.5 491.3,163.8 C491.3,159.1 491.2,151.3 490.4,146.9 C489.6,142.5 488.2,139.6 486.6,137.5 C485.1,135.4 483.2,133.9 481.0,134.2 Z" fill="#20B2AA"/>
<path d="M482.0,143.6 C480.3,144.0 477.3,146.7 475.4,149.2 C473.5,151.7 471.7,155.2 470.7,158.6 C469.7,162.1 469.2,166.1 469.2,169.9 C469.1,173.7 469.6,178.4 470.3,181.2 C471.0,184.0 472.2,184.9 473.5,186.8 C474.8,188.7 476.8,191.4 478.2,192.5 C479.6,193.6 481.1,194.6 482.0,193.4 C482.9,192.2 483.0,188.0 483.6,185.4 C484.3,182.8 485.1,180.2 485.9,177.9 C486.6,175.5 487.7,174.3 488.1,171.3 C488.6,168.4 489.0,164.1 488.5,160.0 C488.1,156.0 486.6,149.6 485.5,146.9 C484.4,144.1 483.7,143.2 482.0,143.6 Z" fill="#B0E0E6"/>
<path d="M480.1,153.4 C478.5,153.2 475.9,155.5 474.4,157.7 C473.0,159.8 471.9,163.2 471.3,166.1 C470.6,169.1 470.5,172.7 470.7,175.5 C470.9,178.4 471.6,181.2 472.6,183.1 C473.5,184.9 474.9,186.5 476.3,186.8 C477.7,187.1 479.8,186.5 481.0,184.9 C482.3,183.4 483.1,180.2 483.9,177.4 C484.6,174.6 485.4,171.2 485.4,168.0 C485.4,164.9 484.7,161.1 483.9,158.6 C483.0,156.2 481.7,153.5 480.1,153.4 Z" fill="#6E97EE"/>
<path d="M478.6,160.5 C477.3,160.5 475.1,163.2 474.1,165.2 C473.0,167.2 472.3,170.2 472.2,172.7 C472.1,175.2 472.8,178.5 473.5,180.2 C474.3,182.0 475.5,183.4 476.7,183.4 C477.9,183.4 479.4,182.0 480.5,180.2 C481.5,178.5 482.7,175.2 482.9,172.7 C483.2,170.2 482.7,167.2 482.0,165.2 C481.3,163.2 479.9,160.5 478.6,160.5 Z" fill="#4169E1"/>
<path d="M476.3,166.1 L480.1,172.2 L476.3,178.9 L472.9,172.2 Z" fill="#0000CD"/>
<path d="M476.3,170.8 L477.3,172.2 L476.3,173.5 L475.4,172.2 Z" fill="#6E97EE"/>
<path d="M380.4,122.4 C381.3,118.0 383.9,118.0 385.1,114.9 C386.4,111.8 386.5,106.8 387.9,103.6 C389.3,100.5 391.4,97.8 393.6,96.1 C395.8,94.4 398.3,93.6 401.1,93.3 C403.9,93.0 407.8,93.3 410.5,94.2 C413.2,95.2 415.4,96.7 417.1,98.9 C418.8,101.1 419.8,103.5 420.8,107.4 C421.9,111.3 422.8,116.8 423.3,122.4 C423.8,128.1 423.5,135.0 423.7,141.2 C423.8,147.5 424.4,154.2 424.0,160.0 C423.7,165.8 422.0,170.2 421.4,176.0 C420.8,181.8 420.5,188.5 420.3,194.8 C420.1,201.1 420.3,207.3 420.3,213.6 C420.3,219.9 420.5,226.2 420.3,232.4 C420.1,238.7 419.5,246.2 419.0,251.2 C418.4,256.3 418.2,259.1 417.1,262.5 C416.0,266.0 414.1,269.6 412.4,271.9 C410.7,274.3 409.2,275.5 406.7,276.6 C404.2,277.7 400.2,277.1 397.3,278.5 C394.5,279.9 392.1,283.5 389.8,285.1 C387.6,286.7 384.3,288.6 383.8,288.3 C383.3,288.0 385.8,285.3 387.0,283.2 C388.1,281.1 389.8,278.5 390.7,275.7 C391.7,272.9 392.8,270.4 392.6,266.3 C392.5,262.2 390.7,256.9 389.8,251.2 C388.9,245.6 387.9,238.7 387.0,232.4 C386.1,226.2 385.3,219.9 384.5,213.6 C383.8,207.3 382.8,201.1 382.3,194.8 C381.8,188.5 381.7,181.8 381.3,176.0 C381.0,170.2 380.6,165.8 380.4,160.0 C380.2,154.2 380.0,147.5 380.0,141.2 C380.0,135.0 379.6,126.8 380.4,122.4 Z" fill="#94BC32"/>
<path d="M389.8,126.2 C390.1,119.9 390.5,116.8 391.3,113.0 C392.1,109.3 393.0,105.9 394.5,103.6 C396.0,101.4 398.1,100.4 400.2,99.5 C402.2,98.6 404.5,98.1 406.7,98.4 C408.9,98.6 411.4,99.3 413.3,100.8 C415.2,102.3 416.9,104.4 418.0,107.4 C419.2,110.4 419.7,113.6 420.3,118.7 C420.8,123.7 421.2,130.6 421.4,137.5 C421.7,144.4 422.2,153.6 421.8,160.0 C421.4,166.5 419.6,170.2 419.0,176.0 C418.3,181.8 418.2,187.0 418.0,194.8 C417.8,202.6 418.0,215.2 417.6,223.0 C417.3,230.9 416.9,236.5 416.1,241.8 C415.4,247.2 414.6,251.2 413.3,255.0 C412.1,258.8 410.5,262.1 408.6,264.4 C406.7,266.8 403.6,269.1 402.0,269.1 C400.5,269.1 400.2,267.4 399.2,264.4 C398.2,261.4 396.8,256.6 395.8,251.2 C394.8,245.9 393.9,238.7 393.2,232.4 C392.4,226.2 391.8,219.9 391.3,213.6 C390.8,207.3 390.4,201.1 390.2,194.8 C389.9,188.5 389.9,183.4 389.8,176.0 C389.7,168.6 389.4,158.9 389.4,150.6 C389.4,142.3 389.5,132.5 389.8,126.2 Z" fill="#B3EE5C"/>
<path d="M406.4,109.6 C408.7,109.3 411.8,113.7 413.3,116.8 C414.9,119.9 415.2,122.4 415.8,128.1 C416.3,133.7 416.6,142.7 416.5,150.6 C416.4,158.6 415.5,167.1 415.2,176.0 C414.9,184.9 414.9,196.4 414.6,204.2 C414.3,212.1 414.0,217.7 413.3,223.0 C412.6,228.4 411.8,232.4 410.5,236.2 C409.2,239.9 407.2,243.6 405.8,245.6 C404.4,247.6 403.1,249.4 402.0,248.4 C400.9,247.5 400.0,243.2 399.2,239.9 C398.4,236.7 397.8,233.1 397.3,228.7 C396.9,224.3 396.6,219.3 396.4,213.6 C396.1,208.0 395.9,201.1 395.8,194.8 C395.7,188.5 395.7,183.4 395.8,176.0 C395.9,168.6 396.2,158.0 396.4,150.6 C396.6,143.3 396.5,137.2 397.0,131.8 C397.4,126.5 397.6,122.4 399.2,118.7 C400.8,115.0 404.0,109.9 406.4,109.6 Z" fill="#20B2AA"/>
<path d="M383.8,66.0 C373.1,66.9 383.4,69.4 383.8,71.6 C384.2,73.8 385.0,77.0 386.0,79.2 C387.1,81.4 387.6,83.9 389.8,84.8 C392.0,85.7 395.5,84.7 399.2,84.8 C403.0,85.0 409.2,84.8 412.4,85.7 C415.5,86.7 416.5,88.4 418.0,90.5 C419.6,92.5 420.7,94.8 421.8,98.0 C422.9,101.1 423.8,105.2 424.6,109.3 C425.4,113.3 426.0,117.7 426.5,122.4 C427.0,127.1 427.3,132.5 427.4,137.5 C427.5,142.5 427.3,146.9 427.1,152.5 C426.8,158.2 426.6,165.8 425.9,171.3 C425.2,176.8 423.5,178.4 422.9,185.4 C422.3,192.5 422.3,205.8 422.2,213.6 C422.0,221.5 422.2,226.2 422.2,232.4 C422.1,238.7 422.0,245.6 421.8,251.2 C421.6,256.9 421.5,262.2 420.8,266.3 C420.2,270.4 419.3,273.2 418.0,275.7 C416.8,278.2 415.5,280.0 413.3,281.3 C411.1,282.6 407.2,282.6 404.9,283.6 C402.5,284.5 400.2,284.8 399.2,287.0 C398.3,289.1 391.1,294.8 399.2,296.4 C407.4,297.9 440.1,298.3 448.1,296.4 C456.1,294.5 446.9,288.2 447.2,285.1 C447.5,282.0 448.6,279.1 450.0,277.6 C451.4,276.0 454.1,276.9 455.6,275.7 C457.2,274.4 458.8,272.2 459.4,270.0 C460.0,267.8 458.8,265.0 459.4,262.5 C460.0,260.0 461.3,257.2 463.2,255.0 C465.0,252.8 468.3,251.4 470.7,249.4 C473.0,247.3 475.8,245.6 477.3,242.8 C478.8,239.9 479.4,236.0 479.7,232.4 C480.0,228.8 479.7,224.3 479.2,221.1 C478.6,218.0 477.6,216.4 476.3,213.6 C475.1,210.8 473.0,208.0 471.6,204.2 C470.2,200.5 469.0,195.1 467.9,191.0 C466.8,187.0 465.8,184.9 465.0,179.8 C464.3,174.6 463.9,166.5 463.5,160.0 C463.2,153.6 463.3,146.6 463.2,141.2 C463.0,135.9 463.1,131.8 462.8,128.1 C462.5,124.3 462.1,121.8 461.3,118.7 C460.5,115.5 459.5,112.7 457.9,109.3 C456.3,105.8 453.4,102.1 451.9,98.0 C450.4,93.9 449.7,89.2 449.1,84.8 C448.4,80.4 448.0,74.8 447.7,71.6 C447.5,68.5 458.4,66.9 447.7,66.0 C437.1,65.1 394.4,65.1 383.8,66.0 Z" fill="#DEB887"/>
<path d="M427.4,277.2 C428.7,277.2 430.8,278.2 431.6,279.1 C432.3,279.9 432.8,281.3 432.1,282.3 C431.4,283.2 428.8,284.7 427.4,284.7 C426.0,284.7 424.2,283.2 423.7,282.3 C423.1,281.3 423.4,279.9 424.0,279.1 C424.7,278.2 426.2,277.2 427.4,277.2 Z" fill="#F5E6BF"/>
<path d="M433.1,296.4 C430.8,294.5 432.8,287.6 434.0,285.1 C435.3,282.6 438.6,281.5 440.6,281.3 C442.6,281.2 445.1,281.6 446.2,284.2 C447.4,286.7 449.6,294.3 447.4,296.4 C445.2,298.4 435.3,298.3 433.1,296.4 Z" fill="#F5E6BF"/>
<path d="M399.2,66.0 C393.0,66.9 397.6,69.9 399.2,71.6 C400.8,73.4 405.5,74.8 408.6,76.3 C411.8,77.9 415.2,79.2 418.0,81.0 C420.8,82.9 423.7,86.3 425.5,87.6 C427.4,88.9 428.1,89.6 429.3,88.9 C430.6,88.3 432.0,86.1 433.1,83.9 C434.2,81.6 435.3,77.4 435.9,75.4 C436.5,73.4 436.4,73.2 436.5,71.6 C436.5,70.1 442.7,66.9 436.5,66.0 C430.2,65.1 405.4,65.1 399.2,66.0 Z" fill="#FFD700"/>
<path d="M448.1,120.2 C450.9,119.3 453.0,120.9 454.7,122.4 C456.4,124.0 457.4,125.9 458.5,129.5 C459.5,133.0 460.3,138.7 460.9,143.6 C461.5,148.4 461.7,153.0 462.2,158.6 C462.8,164.3 463.2,171.2 464.1,177.4 C465.0,183.7 466.8,190.9 467.9,196.2 C469.0,201.6 469.8,205.0 470.7,209.4 C471.5,213.8 472.9,218.7 472.9,222.6 C473.0,226.4 472.7,228.6 471.1,232.4 C469.4,236.3 466.0,241.5 463.2,245.6 C460.3,249.7 456.6,253.7 453.8,256.9 C450.9,260.0 448.3,262.4 446.2,264.4 C444.2,266.4 443.1,269.1 441.5,269.1 C440.0,269.1 438.6,267.4 436.8,264.4 C435.1,261.4 433.1,256.3 431.2,251.2 C429.3,246.1 426.8,239.3 425.5,233.9 C424.3,228.4 424.0,224.4 423.7,218.8 C423.3,213.2 423.1,206.0 423.3,200.0 C423.4,194.0 423.9,188.4 424.6,183.1 C425.3,177.7 426.6,173.0 427.4,168.0 C428.2,163.0 428.5,158.0 429.3,153.0 C430.1,148.0 430.7,142.2 432.1,137.9 C433.5,133.7 435.1,130.5 437.8,127.6 C440.4,124.6 445.3,121.0 448.1,120.2 Z" fill="#FFD700"/>
<path d="M451.9,132.3 C453.4,132.1 454.5,134.2 455.6,137.0 C456.7,139.8 457.7,144.7 458.5,149.2 C459.2,153.8 459.6,158.6 460.3,164.3 C461.1,169.9 462.2,177.1 463.2,183.1 C464.1,189.0 465.2,195.0 466.0,200.0 C466.8,205.0 467.5,209.4 467.9,213.2 C468.2,216.9 468.5,219.4 468.1,222.6 C467.6,225.7 466.9,229.1 465.4,232.0 C464.0,234.9 461.7,237.2 459.4,239.9 C457.1,242.7 454.4,246.8 451.9,248.4 C449.4,250.0 447.0,250.5 444.4,249.7 C441.7,248.9 438.6,246.4 435.9,243.7 C433.2,241.1 430.0,237.7 428.4,233.9 C426.7,230.0 426.4,225.4 425.9,220.7 C425.5,216.0 425.4,210.7 425.5,205.6 C425.7,200.6 426.1,195.6 427.1,190.6 C428.0,185.6 429.7,180.6 431.2,175.5 C432.7,170.5 434.3,165.2 435.9,160.5 C437.5,155.8 438.9,151.1 440.6,147.3 C442.3,143.6 444.4,140.4 446.2,137.9 C448.1,135.4 450.3,132.4 451.9,132.3 Z" fill="#FFA500"/>
<path d="M451.5,141.3 C453.0,140.7 454.2,144.4 455.3,147.3 C456.3,150.2 457.1,154.2 457.9,158.6 C458.7,163.0 459.5,168.3 460.3,173.7 C461.2,179.0 462.4,185.3 463.2,190.6 C463.9,195.9 464.9,201.3 465.0,205.6 C465.2,210.0 465.0,213.5 464.3,216.9 C463.6,220.4 462.3,223.2 460.9,226.3 C459.5,229.5 457.1,233.9 455.6,235.7 C454.1,237.5 453.6,236.4 451.9,237.1 C450.2,237.8 447.6,240.1 445.3,239.9 C442.9,239.8 440.4,238.5 437.8,236.2 C435.2,233.9 431.3,230.2 429.7,226.3 C428.0,222.5 428.1,217.6 427.8,213.2 C427.5,208.8 427.4,204.4 427.8,200.0 C428.2,195.6 429.1,190.9 430.2,186.8 C431.4,182.8 433.2,179.6 434.9,175.5 C436.7,171.5 438.7,166.5 440.6,162.4 C442.5,158.3 444.4,154.6 446.2,151.1 C448.1,147.6 450.0,141.9 451.5,141.3 Z" fill="#FF4500"/>
<path d="M451.5,149.6 C452.8,149.4 454.2,153.4 455.3,156.7 C456.3,160.1 457.0,165.2 457.9,169.9 C458.8,174.6 460.1,179.9 460.9,184.9 C461.7,190.0 462.6,195.6 462.8,200.0 C463.0,204.4 462.9,207.5 462.2,211.3 C461.5,215.0 460.0,219.4 458.5,222.6 C456.9,225.7 454.9,228.5 452.8,230.1 C450.8,231.7 448.4,232.3 446.2,232.3 C444.0,232.3 441.7,231.7 439.7,230.1 C437.6,228.5 435.5,225.7 434.0,222.6 C432.5,219.4 431.4,215.4 430.8,211.3 C430.2,207.2 430.0,202.2 430.2,198.1 C430.5,194.0 431.0,190.3 432.1,186.8 C433.2,183.4 435.1,180.6 436.8,177.4 C438.6,174.3 440.7,171.3 442.5,168.0 C444.2,164.7 445.7,160.7 447.2,157.7 C448.7,154.6 450.2,149.7 451.5,149.6 Z" fill="#B22222"/>
<path d="M451.5,156.4 C452.8,156.4 454.2,160.7 455.3,164.3 C456.3,167.8 457.1,172.7 457.9,177.4 C458.7,182.1 459.8,188.1 460.3,192.5 C460.8,196.9 461.3,200.0 460.9,203.8 C460.5,207.5 459.2,211.9 457.9,215.0 C456.5,218.2 454.6,220.8 452.8,222.6 C451.0,224.3 449.1,225.2 447.2,225.4 C445.3,225.5 443.4,224.9 441.5,223.5 C439.7,222.1 437.3,219.9 435.9,216.9 C434.5,213.9 433.5,209.4 433.1,205.6 C432.6,201.9 432.6,197.8 433.1,194.4 C433.5,190.9 434.5,188.1 435.9,184.9 C437.3,181.8 439.7,179.0 441.5,175.5 C443.4,172.1 445.5,167.5 447.2,164.3 C448.8,161.1 450.2,156.4 451.5,156.4 Z" fill="#FFB6C1"/>
<path d="M451.9,163.9 C453.4,164.0 454.6,168.6 455.6,171.8 C456.6,175.0 457.3,179.0 457.9,183.1 C458.5,187.1 459.1,192.2 459.0,196.2 C459.0,200.3 458.4,204.1 457.5,207.5 C456.6,211.0 455.3,214.8 453.8,216.9 C452.2,219.1 449.8,220.3 448.1,220.3 C446.4,220.3 445.0,218.7 443.4,216.9 C441.8,215.1 439.9,212.2 438.7,209.4 C437.6,206.6 436.7,203.1 436.5,200.0 C436.2,196.9 436.5,193.7 437.2,190.6 C437.9,187.5 439.1,184.5 440.6,181.2 C442.1,177.9 444.4,173.7 446.2,170.8 C448.1,168.0 450.3,163.7 451.9,163.9 Z" fill="#FF1493"/>
<path d="M485.7,252.2 C485.2,251.7 483.2,253.6 482.0,255.0 C480.7,256.4 477.6,260.5 476.3,262.5 C475.1,264.5 473.6,267.9 472.6,270.0 C471.6,272.2 469.2,276.5 468.8,278.5 C468.4,280.5 469.0,284.5 469.7,285.1 C470.5,285.7 473.1,284.0 474.4,283.2 C475.8,282.5 478.8,281.2 480.1,279.4 C481.3,277.7 483.1,272.8 483.9,270.0 C484.7,267.3 485.9,261.1 486.1,258.8 C486.4,256.4 486.3,252.7 485.7,252.2 Z" fill="#94BC32"/>
<path d="M478.7,253.1 C479.6,248.7 482.7,250.3 483.8,251.2 C485.0,252.2 485.7,255.6 485.7,258.8 C485.7,261.9 484.6,266.6 483.8,270.0 C483.0,273.5 481.8,278.2 481.0,279.4 C480.2,280.7 479.1,282.0 478.7,277.6 C478.4,273.2 477.9,257.5 478.7,253.1 Z" fill="#94BC32"/>
<path d="M465.6,267.8 C465.8,267.5 466.7,270.3 466.9,271.9 C467.1,273.6 467.1,277.3 466.9,277.6 C466.7,277.9 465.8,275.4 465.6,273.8 C465.4,272.2 465.4,268.1 465.6,267.8 Z" fill="#94BC32"/>
<path d="M479.2,288.9 C478.8,288.1 480.7,285.2 482.0,284.2 C483.2,283.1 485.6,282.1 486.7,282.3 C487.8,282.4 489.0,284.0 488.6,285.1 C488.1,286.2 485.4,288.2 483.9,288.9 C482.3,289.5 479.5,289.6 479.2,288.9 Z" fill="#DEB887"/>
<path d="M375.1,291.1 L376.6,289.4 L382.3,288.5 L382.7,291.1 Z" fill="#94BC32"/>
</g>
<rect x="375.05" y="71.0" width="220.59999999999997" height="221.2" fill="none" stroke="#000" stroke-width="1.5"/>
<path d="M560.81,292.2 v6.3 M560.81,71.0 v-6.3 M523.08,292.2 v6.3 M523.08,71.0 v-6.3 M485.35,292.2 v6.3 M485.35,71.0 v-6.3 M447.62,292.2 v6.3 M447.62,71.0 v-6.3 M409.89,292.2 v6.3 M409.89,71.0 v-6.3 M375.05,71.00 h-6.7 M375.05,103.22 h-6.7 M375.05,124.45 h-6.7 M375.05,146.95 h-6.7 M375.05,172.53 h-6.7 M375.05,190.67 h-6.7 M375.05,204.75 h-6.7 M375.05,216.25 h-6.7 M375.05,234.40 h-6.7 M375.05,248.48 h-6.7 M375.05,269.70 h-6.7 M375.05,281.95 h-6.7 M375.05,292.20 h-6.7 M595.65,109.50 h6.5 M595.65,149.20 h6.5 M595.65,188.90 h6.5 M595.65,227.20 h6.5 M595.65,261.70 h6.5" stroke="#000" stroke-width="1.15" fill="none"/>
<path d="M585.97,292.2 v3.4 M585.97,71.0 v-3.4 M573.39,292.2 v3.4 M573.39,71.0 v-3.4 M548.23,292.2 v3.4 M548.23,71.0 v-3.4 M535.66,292.2 v3.4 M535.66,71.0 v-3.4 M510.50,292.2 v3.4 M510.50,71.0 v-3.4 M497.93,292.2 v3.4 M497.93,71.0 v-3.4 M472.77,292.2 v3.4 M472.77,71.0 v-3.4 M460.20,292.2 v3.4 M460.20,71.0 v-3.4 M435.04,292.2 v3.4 M435.04,71.0 v-3.4 M422.47,292.2 v3.4 M422.47,71.0 v-3.4 M397.31,292.2 v3.4 M397.31,71.0 v-3.4 M384.73,292.2 v3.4 M384.73,71.0 v-3.4" stroke="#222" stroke-width="0.8" fill="none"/>
<text x="363.45" y="74.0" font-family='"Liberation Sans", sans-serif' font-size="8.4" text-anchor="end" fill="#111" font-weight="normal" textLength="10.5" lengthAdjust="spacingAndGlyphs" stroke="#111" stroke-width="0.2">30</text>
<text x="363.45" y="106.22380216890116" font-family='"Liberation Sans", sans-serif' font-size="8.4" text-anchor="end" fill="#111" font-weight="normal" textLength="10.5" lengthAdjust="spacingAndGlyphs" stroke="#111" stroke-width="0.2">50</text>
<text x="363.45" y="127.44907804342657" font-family='"Liberation Sans", sans-serif' font-size="8.4" text-anchor="end" fill="#111" font-weight="normal" textLength="10.5" lengthAdjust="spacingAndGlyphs" stroke="#111" stroke-width="0.2">70</text>
<text x="363.45" y="149.94877715278596" font-family='"Liberation Sans", sans-serif' font-size="8.4" text-anchor="end" fill="#111" font-weight="normal" textLength="15.8" lengthAdjust="spacingAndGlyphs" stroke="#111" stroke-width="0.2">100</text>
<text x="363.45" y="175.52624786332922" font-family='"Liberation Sans", sans-serif' font-size="8.4" text-anchor="end" fill="#111" font-weight="normal" textLength="15.8" lengthAdjust="spacingAndGlyphs" stroke="#111" stroke-width="0.2">150</text>
<text x="363.45" y="193.67375213667077" font-family='"Liberation Sans", sans-serif' font-size="8.4" text-anchor="end" fill="#111" font-weight="normal" textLength="15.8" lengthAdjust="spacingAndGlyphs" stroke="#111" stroke-width="0.2">200</text>
<text x="363.45" y="207.75005003223038" font-family='"Liberation Sans", sans-serif' font-size="8.4" text-anchor="end" fill="#111" font-weight="normal" textLength="15.8" lengthAdjust="spacingAndGlyphs" stroke="#111" stroke-width="0.2">250</text>
<text x="363.45" y="219.25122284721402" font-family='"Liberation Sans", sans-serif' font-size="8.4" text-anchor="end" fill="#111" font-weight="normal" textLength="15.8" lengthAdjust="spacingAndGlyphs" stroke="#111" stroke-width="0.2">300</text>
<text x="363.45" y="237.39872712055558" font-family='"Liberation Sans", sans-serif' font-size="8.4" text-anchor="end" fill="#111" font-weight="normal" textLength="15.8" lengthAdjust="spacingAndGlyphs" stroke="#111" stroke-width="0.2">400</text>
<text x="363.45" y="251.47502501611518" font-family='"Liberation Sans", sans-serif' font-size="8.4" text-anchor="end" fill="#111" font-weight="normal" textLength="15.8" lengthAdjust="spacingAndGlyphs" stroke="#111" stroke-width="0.2">500</text>
<text x="363.45" y="272.7003008906406" font-family='"Liberation Sans", sans-serif' font-size="8.4" text-anchor="end" fill="#111" font-weight="normal" textLength="15.8" lengthAdjust="spacingAndGlyphs" stroke="#111" stroke-width="0.2">700</text>
<text x="363.45" y="284.948012650131" font-family='"Liberation Sans", sans-serif' font-size="8.4" text-anchor="end" fill="#111" font-weight="normal" textLength="15.8" lengthAdjust="spacingAndGlyphs" stroke="#111" stroke-width="0.2">850</text>
<text x="363.45" y="295.2" font-family='"Liberation Sans", sans-serif' font-size="8.4" text-anchor="end" fill="#111" font-weight="normal" textLength="21.1" lengthAdjust="spacingAndGlyphs" stroke="#111" stroke-width="0.2">1000</text>
<text x="606.75" y="112.55" font-family='"Liberation Sans", sans-serif' font-size="8.6" text-anchor="start" fill="#111" font-weight="normal" textLength="10.6" lengthAdjust="spacingAndGlyphs" stroke="#111" stroke-width="0.2">20</text>
<text x="606.75" y="152.25" font-family='"Liberation Sans", sans-serif' font-size="8.6" text-anchor="start" fill="#111" font-weight="normal" textLength="10.6" lengthAdjust="spacingAndGlyphs" stroke="#111" stroke-width="0.2">16</text>
<text x="606.75" y="191.95000000000002" font-family='"Liberation Sans", sans-serif' font-size="8.6" text-anchor="start" fill="#111" font-weight="normal" textLength="10.6" lengthAdjust="spacingAndGlyphs" stroke="#111" stroke-width="0.2">12</text>
<text x="606.75" y="230.25" font-family='"Liberation Sans", sans-serif' font-size="8.6" text-anchor="start" fill="#111" font-weight="normal" textLength="5.3" lengthAdjust="spacingAndGlyphs" stroke="#111" stroke-width="0.2">8</text>
<text x="606.75" y="264.75" font-family='"Liberation Sans", sans-serif' font-size="8.6" text-anchor="start" fill="#111" font-weight="normal" textLength="5.3" lengthAdjust="spacingAndGlyphs" stroke="#111" stroke-width="0.2">4</text>
<text x="409.88819840364886" y="310.3" font-family='"Liberation Sans", sans-serif' font-size="8.8" text-anchor="middle" fill="#111" font-weight="normal" textLength="16.6" lengthAdjust="spacingAndGlyphs" stroke="#111" stroke-width="0.2">60N</text>
<text x="447.61909920182444" y="310.3" font-family='"Liberation Sans", sans-serif' font-size="8.8" text-anchor="middle" fill="#111" font-weight="normal" textLength="16.6" lengthAdjust="spacingAndGlyphs" stroke="#111" stroke-width="0.2">30N</text>
<text x="485.35" y="310.3" font-family='"Liberation Sans", sans-serif' font-size="8.8" text-anchor="middle" fill="#111" font-weight="normal" textLength="5.5" lengthAdjust="spacingAndGlyphs" stroke="#111" stroke-width="0.2">0</text>
<text x="523.0809007981757" y="310.3" font-family='"Liberation Sans", sans-serif' font-size="8.8" text-anchor="middle" fill="#111" font-weight="normal" textLength="16.6" lengthAdjust="spacingAndGlyphs" stroke="#111" stroke-width="0.2">30S</text>
<text x="560.8118015963512" y="310.3" font-family='"Liberation Sans", sans-serif' font-size="8.8" text-anchor="middle" fill="#111" font-weight="normal" textLength="16.6" lengthAdjust="spacingAndGlyphs" stroke="#111" stroke-width="0.2">60S</text>
<text x="0" y="0" font-family='"Liberation Serif", serif' font-size="15" text-anchor="middle" fill="#3a3a3a" font-weight="normal" textLength="107" lengthAdjust="spacingAndGlyphs" transform="translate(334.55,181.6) rotate(-90)">Pressure (mb)</text>
<text x="0" y="0" font-family='"Liberation Serif", serif' font-size="15" text-anchor="middle" fill="#3a3a3a" font-weight="normal" textLength="90" lengthAdjust="spacingAndGlyphs" transform="translate(634.05,181.6) rotate(-90)">Height (km)</text>
<text x="401.3" y="42.4" font-family='"Liberation Serif", serif' font-size="14.5" text-anchor="start" fill="#3a3a3a" font-weight="normal" textLength="55.7" lengthAdjust="spacingAndGlyphs" >b30.004</text>
<text x="466" y="42.4" font-family='"Liberation Serif", serif' font-size="14.5" text-anchor="start" fill="#3a3a3a" font-weight="normal" textLength="28.6" lengthAdjust="spacingAndGlyphs" >(yrs</text>
<text x="505.2" y="42.4" font-family='"Liberation Serif", serif' font-size="14.5" text-anchor="start" fill="#3a3a3a" font-weight="normal" textLength="65.4" lengthAdjust="spacingAndGlyphs" >475−499)</text>
<text x="374.05" y="61.4" font-family='"Liberation Serif", serif' font-size="13.5" text-anchor="start" fill="#3a3a3a" font-weight="normal" textLength="67.8" lengthAdjust="spacingAndGlyphs" >Stationary</text>
<text x="451.55" y="61.4" font-family='"Liberation Serif", serif' font-size="13.5" text-anchor="start" fill="#3a3a3a" font-weight="normal" textLength="27.5" lengthAdjust="spacingAndGlyphs" >eddy</text>
<text x="488.85" y="61.4" font-family='"Liberation Serif", serif' font-size="13.5" text-anchor="start" fill="#3a3a3a" font-weight="normal" textLength="79.6" lengthAdjust="spacingAndGlyphs" >momentum</text>
<text x="596.65" y="61.4" font-family='"Liberation Serif", serif' font-size="13.5" text-anchor="end" fill="#3a3a3a" font-weight="normal" textLength="155" lengthAdjust="spacingAndGlyphs" >m~S~2~N~/s~S~2~N~</text>
<clipPath id="cp3"><rect x="214.2" y="424.3" width="220.8" height="220.99999999999994"/></clipPath>
<g clip-path="url(#cp3)">
<rect x="214.2" y="424.3" width="220.8" height="220.99999999999994" fill="#F5E6BF"/>
<path d="M210.0,420.0 L454.5,420.0 L454.5,664.5 L210.0,664.5 Z" fill="#94BC32"/>
<path d="M218.5,420.0 C217.8,420.5 218.3,423.9 218.5,425.1 C218.7,426.2 220.0,430.3 220.3,431.3 C220.7,432.2 221.3,434.9 221.7,434.7 C222.0,434.5 223.2,430.4 223.5,429.4 C223.9,428.4 224.9,426.0 225.0,425.1 C225.2,424.1 225.7,420.5 225.0,420.0 C224.4,419.5 219.1,419.5 218.5,420.0 Z" fill="#F5E6BF"/>
<path d="M240.1,420.0 C238.3,420.6 239.9,423.1 240.1,425.1 C240.3,427.1 241.4,434.2 242.0,436.9 C242.5,439.6 244.1,446.5 244.8,448.2 C245.5,450.0 247.0,452.0 247.6,452.0 C248.3,452.0 249.9,449.7 250.4,448.2 C251.0,446.7 251.8,441.5 252.3,438.8 C252.9,436.1 254.8,427.3 255.1,425.1 C255.5,422.9 256.9,420.6 255.1,420.0 C253.4,419.4 241.8,419.4 240.1,420.0 Z" fill="#F5E6BF"/>
<path d="M263.2,423.8 L264.5,434.1 L266.4,429.4 L267.4,423.8 Z" fill="#B3EE5C"/>
<path d="M234.5,483.0 C235.6,481.9 237.1,487.1 238.2,488.7 C239.3,490.2 241.5,492.9 242.9,494.3 C244.3,495.7 248.0,496.9 248.6,499.0 C249.1,501.1 247.7,507.3 247.2,510.3 C246.8,513.3 246.6,518.9 245.4,521.6 C244.2,524.2 239.2,526.4 238.2,530.0 C237.3,533.6 238.0,543.8 238.2,548.8 C238.4,553.8 239.3,562.6 239.7,567.6 C240.1,572.6 240.7,581.4 241.0,586.4 C241.4,591.4 242.1,600.7 242.4,605.2 C242.6,609.7 243.1,617.3 242.9,620.3 C242.7,623.3 241.9,626.1 241.0,627.8 C240.2,629.6 237.7,631.7 236.3,633.4 C235.0,635.2 232.3,639.5 230.7,641.0 C229.1,642.4 225.0,642.6 224.1,644.4 C223.2,646.1 226.5,652.8 224.1,654.1 C221.7,655.4 208.6,669.9 206.2,654.1 C203.9,638.3 204.2,551.4 206.2,535.6 C208.3,519.8 219.5,537.0 221.7,535.6 C223.9,534.3 222.2,528.5 222.8,525.3 C223.4,522.2 225.1,515.9 226.0,512.2 C226.9,508.4 228.6,501.0 229.7,497.1 C230.9,493.2 233.3,484.1 234.5,483.0 Z" fill="#F5E6BF"/>
<path d="M283.4,418.1 C290.5,417.2 329.8,417.2 336.9,418.1 C344.1,419.0 337.3,422.3 336.9,425.1 C336.6,427.8 334.7,435.0 334.1,438.8 C333.6,442.6 333.5,451.2 332.8,453.9 C332.0,456.5 329.4,457.1 328.5,458.6 C327.5,460.1 326.3,462.8 325.6,465.1 C325.0,467.5 323.4,474.4 323.8,476.4 C324.1,478.4 327.1,478.9 328.5,480.2 C329.8,481.4 332.7,484.1 334.1,485.8 C335.5,487.6 337.8,491.3 338.8,493.4 C339.8,495.4 341.2,498.1 341.6,500.9 C342.1,503.6 342.3,510.8 342.2,514.0 C342.1,517.3 341.3,521.7 341.1,525.3 C340.8,529.0 340.4,537.4 340.3,541.3 C340.2,545.2 340.5,551.4 340.3,554.5 C340.1,557.5 339.5,562.2 338.8,563.9 C338.1,565.5 335.8,567.2 335.0,566.7 C334.2,566.2 333.2,562.5 332.8,560.1 C332.4,557.7 332.1,552.1 332.2,548.8 C332.3,545.5 333.0,538.1 333.5,535.6 C334.1,533.1 335.8,531.4 336.6,530.0 C337.3,528.7 339.2,527.1 338.8,525.3 C338.4,523.6 334.7,516.9 333.5,516.9 C332.4,516.9 331.1,522.9 330.3,525.3 C329.5,527.7 328.1,532.1 327.5,534.7 C326.9,537.4 326.2,542.4 325.7,545.0 C325.2,547.7 324.4,552.2 323.8,554.5 C323.2,556.7 322.0,560.5 321.0,562.0 C320.0,563.5 317.8,565.7 316.3,565.7 C314.8,565.7 311.2,563.7 309.7,562.0 C308.2,560.2 305.9,555.3 305.0,552.6 C304.0,549.8 303.0,544.3 302.5,541.3 C302.1,538.3 302.1,532.6 301.8,530.0 C301.4,527.4 300.4,524.2 299.9,521.6 C299.5,518.9 298.8,513.3 298.4,510.3 C298.0,507.3 297.1,502.5 296.7,499.0 C296.4,495.5 295.7,487.5 295.8,483.9 C295.8,480.4 296.4,475.5 296.9,472.7 C297.4,469.8 298.4,464.6 299.3,462.3 C300.3,460.1 303.7,457.6 304.0,455.7 C304.4,453.9 303.0,449.9 302.2,448.2 C301.4,446.5 299.2,442.7 298.0,442.9 C296.9,443.2 294.4,447.4 293.7,450.1 C293.0,452.8 293.1,459.7 293.1,463.3 C293.2,466.8 294.4,474.4 294.3,476.4 C294.1,478.5 292.8,478.1 291.8,478.7 C290.9,479.3 288.2,479.9 287.1,481.1 C286.0,482.3 284.5,485.3 283.7,487.7 C282.9,490.1 281.9,496.7 281.1,499.0 C280.3,501.3 278.5,504.8 277.7,505.0 C276.9,505.3 275.5,502.7 274.9,500.9 C274.3,499.1 273.3,494.7 273.0,491.5 C272.8,488.2 272.8,480.4 273.0,476.4 C273.3,472.4 274.3,465.1 274.9,461.4 C275.5,457.6 276.8,451.7 277.7,448.2 C278.6,444.7 280.7,438.1 281.5,435.0 C282.2,432.0 283.1,427.3 283.4,425.1 C283.6,422.8 276.2,419.0 283.4,418.1 Z" fill="#F5E6BF"/>
<path d="M364.2,418.1 C353.0,421.7 364.7,422.3 364.2,425.1 C363.7,427.8 361.2,435.0 360.4,438.8 C359.7,442.6 359.4,451.0 358.6,453.9 C357.7,456.7 354.7,457.4 353.9,460.4 C353.0,463.4 352.5,471.8 352.0,476.4 C351.5,481.1 350.2,492.0 350.1,495.2 C350.0,498.5 350.4,499.1 351.0,500.9 C351.7,502.6 353.9,506.1 354.8,508.4 C355.7,510.7 356.9,515.3 357.6,517.8 C358.4,520.3 359.4,524.7 360.4,527.2 C361.4,529.7 364.0,535.9 365.1,536.6 C366.3,537.4 367.6,534.9 368.9,532.9 C370.2,530.8 373.0,524.8 374.5,521.6 C376.1,518.3 378.8,511.0 380.2,508.4 C381.6,505.8 383.6,502.4 384.9,502.4 C386.1,502.4 388.2,506.1 389.6,508.4 C391.0,510.7 393.7,517.2 395.2,519.7 C396.7,522.2 399.5,525.5 400.9,527.2 C402.3,529.0 404.7,530.5 405.6,532.9 C406.5,535.2 407.1,541.7 407.5,545.0 C407.8,548.4 408.0,553.9 408.4,558.2 C408.8,562.5 409.5,572.8 410.3,577.0 C411.0,581.3 412.8,587.4 414.0,590.2 C415.3,592.9 418.3,596.1 419.7,597.7 C421.1,599.3 423.5,600.7 424.4,602.4 C425.3,604.2 425.8,608.2 426.3,610.9 C426.8,613.6 425.3,621.0 428.2,622.5 C431.0,624.1 445.3,652.4 447.9,622.5 C450.5,592.6 459.1,425.6 447.9,398.3 C436.7,371.1 375.4,414.6 364.2,418.1 Z" fill="#F5E6BF"/>
<path d="M437.6,469.8 L433.2,476.4 L437.6,483.0 Z" fill="#94BC32"/>
<path d="M308.2,604.9 C309.5,604.5 311.9,607.2 312.5,609.0 C313.1,610.8 312.5,614.4 311.6,615.6 C310.6,616.8 308.0,616.9 306.9,616.1 C305.7,615.4 304.4,612.8 304.6,610.9 C304.8,609.0 306.9,605.2 308.2,604.9 Z" fill="#F5E6BF"/>
<path d="M320.0,605.2 C321.6,603.8 323.0,601.8 324.7,601.5 C326.4,601.2 329.0,602.1 330.3,603.4 C331.7,604.6 332.6,607.1 332.8,609.0 C332.9,610.9 332.5,613.4 331.3,614.6 C330.1,615.9 327.5,616.5 325.6,616.5 C323.8,616.5 321.7,615.7 320.0,614.6 C318.3,613.5 315.3,611.5 315.3,609.9 C315.3,608.4 318.4,606.6 320.0,605.2 Z" fill="#F5E6BF"/>
<path d="M305.0,624.0 C306.3,623.6 308.7,625.1 309.3,626.9 C309.9,628.6 309.7,633.0 308.7,634.4 C307.8,635.8 304.9,636.1 303.7,635.3 C302.4,634.5 301.0,631.6 301.2,629.7 C301.4,627.8 303.6,624.5 305.0,624.0 Z" fill="#F5E6BF"/>
<path d="M316.3,618.4 C317.7,618.1 320.5,620.1 321.0,622.2 C321.4,624.2 320.2,629.1 319.1,630.6 C318.0,632.2 315.5,632.7 314.4,631.6 C313.3,630.5 312.2,626.2 312.5,624.0 C312.8,621.8 314.9,618.7 316.3,618.4 Z" fill="#F5E6BF"/>
<path d="M339.7,600.5 C340.4,600.3 341.4,607.1 342.6,609.0 C343.7,610.9 346.6,613.1 348.2,614.6 C349.8,616.1 353.4,618.8 354.8,620.3 C356.2,621.8 357.9,624.4 358.6,625.9 C359.2,627.4 360.0,630.4 359.5,631.6 C359.0,632.7 355.8,633.4 354.8,634.4 C353.8,635.4 352.5,637.0 352.0,639.1 C351.5,641.2 356.8,648.9 351.0,650.4 C345.3,651.9 314.4,652.4 308.7,650.4 C303.1,648.4 308.0,637.7 308.7,635.3 C309.5,632.9 313.0,634.0 314.4,632.5 C315.7,631.0 317.3,625.2 319.1,624.0 C320.8,622.9 325.5,624.5 327.5,624.0 C329.5,623.5 332.7,622.0 334.1,620.3 C335.5,618.5 337.1,613.5 337.9,610.9 C338.6,608.2 339.1,600.8 339.7,600.5 Z" fill="#F5E6BF"/>
<path d="M326.0,620.8 C326.5,620.8 327.3,621.7 327.3,622.2 C327.3,622.6 326.5,623.5 326.0,623.5 C325.6,623.5 324.7,622.6 324.7,622.2 C324.7,621.7 325.6,620.8 326.0,620.8 Z" fill="#94BC32"/>
<path d="M234.1,572.3 C235.1,572.9 237.0,578.7 237.8,582.7 C238.7,586.6 239.1,591.4 239.2,595.8 C239.2,600.2 238.8,606.0 238.2,609.0 C237.6,612.0 236.4,614.7 235.4,614.1 C234.4,613.4 233.0,608.9 232.2,605.2 C231.4,601.6 230.8,596.5 230.7,592.1 C230.6,587.7 231.1,582.2 231.6,578.9 C232.2,575.6 233.0,571.7 234.1,572.3 Z" fill="#DEB887"/>
<path d="M366.1,490.0 C367.3,490.0 371.4,496.6 371.7,499.0 C372.1,501.4 369.9,508.0 369.3,510.3 C368.6,512.6 366.7,518.7 366.1,518.7 C365.4,518.7 364.2,512.6 363.6,510.3 C363.1,508.0 361.1,501.4 361.4,499.0 C361.7,496.6 364.9,490.0 366.1,490.0 Z" fill="#DEB887"/>
<path d="M421.6,548.8 C422.5,549.4 424.2,554.6 424.4,558.2 C424.5,561.8 423.3,569.5 422.5,570.4 C421.7,571.4 420.3,566.5 419.7,563.9 C419.1,561.2 418.4,557.0 418.7,554.5 C419.1,551.9 420.6,548.2 421.6,548.8 Z" fill="#DEB887"/>
<path d="M408.4,423.8 L410.3,429.4 L412.2,423.8 Z" fill="#DEB887"/>
<path d="M337.9,650.4 C336.6,648.7 337.9,641.9 338.8,640.0 C339.7,638.2 342.3,638.6 343.5,639.1 C344.8,639.6 345.8,641.0 346.3,642.9 C346.9,644.7 348.1,649.1 346.7,650.4 C345.3,651.6 339.2,652.1 337.9,650.4 Z" fill="#DEB887"/>
<path d="M326.6,540.3 C327.2,540.6 329.3,543.4 329.4,545.0 C329.5,546.7 328.1,554.0 327.5,554.5 C327.0,554.9 325.1,550.1 324.7,548.8 C324.3,547.5 323.9,544.2 324.1,543.2 C324.4,542.2 326.0,540.1 326.6,540.3 Z" fill="#B3EE5C"/>
<path d="M353.9,521.6 C354.9,521.8 356.8,528.8 357.6,531.0 C358.4,533.1 359.3,535.1 359.9,537.5 C360.4,539.9 361.7,545.8 361.8,548.8 C361.8,551.8 361.1,557.5 360.4,560.1 C359.8,562.7 357.9,569.1 356.7,568.6 C355.4,568.1 352.2,559.7 351.0,556.3 C349.9,552.9 348.2,546.4 347.8,543.2 C347.5,539.9 348.3,533.8 348.6,531.9 C348.9,530.0 349.4,530.5 350.1,529.1 C350.8,527.7 352.9,521.3 353.9,521.6 Z" fill="#B3EE5C"/>
<path d="M382.1,531.0 C383.3,531.1 384.8,533.3 385.8,535.7 C386.8,538.1 388.9,544.5 389.6,548.8 C390.3,553.1 390.8,562.6 391.1,567.6 C391.4,572.6 392.0,581.8 391.8,586.4 C391.7,591.1 391.0,601.7 390.0,602.4 C388.9,603.2 385.8,595.0 383.9,592.1 C382.1,589.2 378.4,583.8 376.4,580.8 C374.5,577.8 370.7,572.8 369.3,569.5 C367.8,566.2 365.7,559.3 365.5,556.3 C365.3,553.3 367.0,549.2 368.0,546.9 C368.9,544.7 371.5,541.0 372.7,539.4 C373.8,537.8 375.2,535.9 376.4,534.7 C377.7,533.6 380.8,530.8 382.1,531.0 Z" fill="#B3EE5C"/>
<path d="M402.8,607.1 C403.7,606.9 406.1,612.4 406.9,614.6 C407.7,616.9 409.0,621.7 408.8,624.0 C408.6,626.4 406.5,632.0 405.6,632.5 C404.7,633.0 402.6,629.9 401.8,627.8 C401.1,625.7 399.8,619.3 399.9,616.5 C400.1,613.8 401.8,607.4 402.8,607.1 Z" fill="#B3EE5C"/>
<path d="M417.8,613.1 C419.0,613.5 422.3,618.1 423.1,620.3 C423.9,622.5 424.3,627.7 423.8,629.7 C423.4,631.7 421.0,635.0 419.7,635.3 C418.4,635.7 415.2,633.9 414.0,632.5 C412.9,631.1 411.2,627.0 411.2,625.0 C411.2,623.0 413.2,619.0 414.0,617.5 C414.9,615.9 416.6,612.8 417.8,613.1 Z" fill="#B3EE5C"/>
<path d="M388.7,650.4 C387.4,648.7 391.0,641.6 392.4,640.0 C393.8,638.5 395.9,639.2 397.1,641.0 C398.4,642.7 401.3,648.8 399.9,650.4 C398.5,651.9 389.9,652.1 388.7,650.4 Z" fill="#B3EE5C"/>
<path d="M416.9,650.4 C415.8,648.0 417.0,638.8 417.8,636.3 C418.6,633.8 420.5,634.9 421.6,635.3 C422.7,635.8 423.9,636.6 424.4,639.1 C424.9,641.6 425.6,648.5 424.4,650.4 C423.1,652.3 418.0,652.7 416.9,650.4 Z" fill="#B3EE5C"/>
<path d="M418.6,650.4 C418.0,648.5 418.8,641.0 419.3,639.1 C419.8,637.1 421.0,636.8 421.6,638.7 C422.1,640.6 423.2,648.4 422.7,650.4 C422.2,652.3 419.1,652.3 418.6,650.4 Z" fill="#20B2AA"/>
<path d="M419.7,650.4 C419.4,648.9 420.0,642.9 420.3,641.3 C420.5,639.8 421.1,639.8 421.4,641.3 C421.6,642.9 422.0,648.9 421.8,650.4 C421.5,651.9 419.9,651.9 419.7,650.4 Z" fill="#B0E0E6"/>
<path d="M402.4,645.0 C400.4,644.2 403.9,640.9 405.6,639.9 C407.2,638.9 410.4,638.7 412.2,639.0 C413.9,639.3 415.1,640.8 415.9,641.8 C416.8,642.8 419.5,644.5 417.2,645.0 C415.0,645.5 404.3,645.9 402.4,645.0 Z" fill="#F5E6BF"/>
<path d="M409.0,643.9 C408.2,643.6 409.1,642.3 409.9,642.0 C410.7,641.7 412.9,641.7 413.7,642.0 C414.4,642.3 415.2,643.6 414.4,643.9 C413.6,644.2 409.7,644.2 409.0,643.9 Z" fill="#FFD700"/>
<path d="M315.3,641.0 C315.5,639.3 316.6,636.7 318.2,635.3 C319.7,633.9 322.5,632.9 324.7,632.5 C326.9,632.1 329.7,632.3 331.3,633.1 C332.9,633.9 334.4,635.6 334.5,637.2 C334.7,638.8 333.9,641.4 332.3,642.9 C330.6,644.3 327.2,645.3 324.7,645.7 C322.2,646.1 318.8,645.9 317.2,645.1 C315.6,644.3 315.2,642.6 315.3,641.0 Z" fill="#B3EE5C"/>
<path d="M317.6,641.0 C317.3,639.8 318.7,637.9 320.0,636.8 C321.4,635.7 323.9,634.6 325.7,634.4 C327.4,634.1 329.3,634.6 330.4,635.3 C331.4,636.1 332.2,637.5 331.9,638.7 C331.6,639.9 330.2,641.6 328.5,642.5 C326.8,643.4 323.7,644.2 321.9,644.0 C320.1,643.7 317.9,642.2 317.6,641.0 Z" fill="#20B2AA"/>
<path d="M319.5,640.6 C319.5,639.7 321.3,638.0 322.5,637.2 C323.7,636.4 325.5,635.6 326.6,635.7 C327.7,635.8 328.8,636.7 328.9,637.6 C328.9,638.5 328.1,640.2 327.0,641.0 C325.9,641.8 323.7,642.5 322.5,642.5 C321.2,642.4 319.5,641.5 319.5,640.6 Z" fill="#B0E0E6"/>
<path d="M432.3,622.5 L436.0,622.5 L436.0,647.0 L424.7,647.0 L424.7,640.0 L426.5,640.0 L426.5,634.0 L428.0,634.0 L428.0,629.0 L430.0,629.0 L430.0,626.0 L432.3,626.0 Z" fill="#fff"/>
<path d="M260.8,470.4 C261.9,469.9 262.9,474.1 263.6,476.4 C264.4,478.7 265.5,484.5 266.4,487.7 C267.3,491.0 269.2,497.4 270.2,500.9 C271.2,504.4 273.1,511.5 273.9,514.0 C274.8,516.6 275.9,519.4 276.8,519.7 C277.6,519.9 279.5,517.9 280.5,515.9 C281.5,513.9 283.3,507.6 284.3,504.6 C285.3,501.6 287.2,495.1 288.1,493.4 C288.9,491.6 290.2,491.0 290.9,491.5 C291.6,492.0 292.9,494.9 293.5,497.1 C294.1,499.4 295.1,505.1 295.6,508.4 C296.1,511.7 296.8,518.7 297.3,521.6 C297.8,524.4 298.7,527.6 299.3,530.0 C300.0,532.4 301.5,536.4 302.4,539.4 C303.2,542.4 304.7,548.8 305.5,552.6 C306.4,556.3 308.2,563.6 308.7,567.6 C309.3,571.6 309.8,579.4 309.7,582.7 C309.6,585.9 308.8,590.3 307.8,592.1 C306.8,593.8 303.3,593.6 302.2,595.8 C301.0,598.1 300.1,605.7 299.3,609.0 C298.6,612.3 297.6,617.8 296.5,620.3 C295.4,622.8 292.4,626.2 290.9,627.8 C289.4,629.4 287.0,631.8 285.2,632.5 C283.5,633.3 279.5,633.8 277.7,633.4 C276.0,633.1 273.6,630.1 272.1,629.7 C270.6,629.3 267.4,629.9 266.4,630.6 C265.4,631.4 265.9,634.4 264.5,635.3 C263.2,636.3 258.0,638.1 256.1,637.6 C254.2,637.1 251.4,634.1 250.4,631.6 C249.4,629.0 248.9,621.9 248.6,618.4 C248.2,614.9 247.9,609.5 247.6,605.2 C247.4,601.0 247.0,591.4 246.7,586.4 C246.4,581.4 245.7,572.6 245.4,567.6 C245.0,562.6 244.4,553.6 244.2,548.8 C244.0,544.0 243.7,535.0 243.9,531.9 C244.0,528.8 244.9,528.2 245.4,525.3 C245.9,522.4 246.9,514.3 247.6,510.3 C248.3,506.3 249.4,499.2 250.4,495.2 C251.4,491.2 253.8,483.5 255.1,480.2 C256.5,476.9 259.7,470.9 260.8,470.4 Z" fill="#B3EE5C"/>
<path d="M266.1,631.6 C267.4,630.9 271.5,630.6 273.0,631.2 C274.5,631.8 275.0,633.9 274.9,635.3 C274.7,636.8 273.5,639.4 272.1,640.0 C270.7,640.7 267.6,639.9 266.4,639.1 C265.2,638.3 265.0,636.6 264.9,635.3 C264.9,634.1 264.7,632.3 266.1,631.6 Z" fill="#94BC32"/>
<path d="M250.0,524.2 C250.8,521.6 252.8,518.6 253.8,516.6 C254.8,514.7 256.6,510.8 257.5,509.6 C258.5,508.3 259.9,507.2 260.8,507.2 C261.7,507.3 263.2,508.5 264.1,510.0 C265.0,511.6 266.4,516.3 267.4,518.5 C268.4,520.8 270.6,525.4 271.6,527.0 C272.7,528.5 274.4,530.3 275.4,530.3 C276.4,530.3 278.2,528.7 279.2,527.0 C280.2,525.3 282.0,520.1 282.9,517.6 C283.9,515.1 285.4,509.9 286.2,508.2 C287.0,506.4 288.3,504.5 289.0,504.4 C289.8,504.3 291.1,505.6 291.9,507.2 C292.6,508.9 294.0,513.9 294.7,516.6 C295.4,519.4 296.3,524.5 297.0,527.9 C297.7,531.3 299.2,538.4 299.8,542.0 C300.5,545.6 301.3,551.6 301.7,555.0 C302.2,558.4 303.2,563.9 303.1,567.6 C303.0,571.3 302.2,579.2 301.2,582.7 C300.2,586.2 297.0,590.9 295.6,593.9 C294.2,597.0 292.3,602.2 290.9,605.2 C289.5,608.2 286.6,614.1 285.2,616.5 C283.9,618.9 282.5,622.4 280.5,623.1 C278.5,623.9 272.7,623.0 270.2,622.2 C267.7,621.3 263.6,618.8 261.7,616.5 C259.8,614.3 257.4,609.2 256.1,605.2 C254.8,601.2 252.7,591.4 251.8,586.4 C250.8,581.4 249.7,572.6 249.1,567.6 C248.6,562.6 247.8,553.1 247.6,548.8 C247.4,544.5 247.1,538.9 247.4,535.6 C247.7,532.4 249.2,526.7 250.0,524.2 Z" fill="#20B2AA"/>
<path d="M250.0,540.1 C250.5,538.2 252.7,534.3 253.8,532.6 C254.8,530.9 257.0,528.3 258.0,527.4 C259.0,526.6 260.3,526.0 261.3,526.0 C262.2,526.1 264.0,527.0 265.0,527.9 C266.1,528.8 267.8,531.5 268.8,532.6 C269.8,533.7 271.6,535.8 272.6,536.4 C273.5,536.9 274.9,537.1 275.9,536.9 C276.9,536.6 279.0,535.8 280.1,534.5 C281.2,533.2 282.9,529.2 283.9,527.0 C284.8,524.7 286.3,519.5 287.1,517.6 C288.0,515.7 289.3,513.1 290.0,512.9 C290.7,512.6 291.7,514.1 292.3,515.7 C292.9,517.3 294.0,522.5 294.7,525.1 C295.3,527.7 296.4,532.4 297.0,535.4 C297.7,538.4 298.9,545.1 299.4,547.7 C299.9,550.3 300.6,552.3 300.8,555.0 C301.0,557.7 301.0,564.4 300.7,567.6 C300.3,570.8 299.5,575.9 298.4,578.9 C297.3,581.9 294.3,587.4 292.8,590.2 C291.3,592.9 288.6,597.1 287.1,599.6 C285.6,602.1 283.0,606.9 281.5,609.0 C280.0,611.1 277.3,614.8 275.8,615.6 C274.3,616.3 271.9,615.8 270.2,614.6 C268.4,613.5 264.4,609.9 262.7,607.1 C260.9,604.4 258.3,598.0 257.0,593.9 C255.8,589.9 254.1,581.8 253.3,577.0 C252.5,572.3 251.5,562.2 251.0,558.2 C250.6,554.2 250.0,549.3 249.9,546.9 C249.7,544.5 249.5,542.1 250.0,540.1 Z" fill="#B0E0E6"/>
<path d="M251.1,549.5 C251.2,548.4 252.1,545.4 252.8,543.9 C253.5,542.4 255.6,539.4 256.6,538.3 C257.6,537.1 259.3,535.7 260.3,535.4 C261.3,535.2 263.0,535.8 264.1,536.4 C265.2,537.0 267.6,539.3 268.8,540.1 C270.1,541.0 272.3,542.4 273.5,542.5 C274.8,542.6 277.0,541.9 278.2,541.1 C279.4,540.3 281.4,538.1 282.4,536.4 C283.5,534.6 285.3,529.9 286.2,527.9 C287.1,525.9 288.8,522.3 289.5,521.3 C290.2,520.4 290.9,520.4 291.4,520.9 C291.9,521.4 292.7,523.3 293.3,525.1 C293.8,526.9 295.0,531.7 295.6,534.5 C296.2,537.3 297.5,543.1 298.0,545.8 C298.5,548.5 299.4,551.6 299.4,555.0 C299.4,558.4 298.8,567.9 298.0,571.4 C297.3,574.8 295.0,578.3 293.7,580.8 C292.4,583.3 289.6,587.6 288.1,590.2 C286.6,592.8 283.9,598.0 282.4,600.5 C280.9,603.0 278.2,607.7 276.8,609.0 C275.4,610.3 273.6,610.7 272.1,609.9 C270.6,609.2 267.1,605.7 265.5,603.4 C263.9,601.0 261.1,595.3 259.8,592.1 C258.6,588.8 257.0,582.7 256.1,578.9 C255.2,575.1 253.8,567.4 253.3,563.9 C252.7,560.3 252.2,554.5 251.9,552.6 C251.7,550.7 251.0,550.7 251.1,549.5 Z" fill="#6E97EE"/>
<path d="M259.8,556.3 C260.9,555.0 264.3,552.1 266.4,551.6 C268.6,551.1 273.3,552.2 275.8,552.6 C278.3,552.9 283.5,554.8 285.2,554.1 C287.0,553.3 288.2,549.0 289.0,546.9 C289.7,544.8 290.3,539.2 290.9,538.5 C291.5,537.7 293.0,539.4 293.7,541.3 C294.4,543.2 295.8,549.8 296.1,552.6 C296.5,555.3 296.6,559.7 296.1,562.0 C295.7,564.2 294.0,567.7 292.8,569.5 C291.6,571.3 288.5,573.4 287.1,575.1 C285.7,576.9 283.7,580.4 282.4,582.7 C281.2,584.9 279.0,590.1 277.7,592.1 C276.5,594.0 274.3,597.2 273.0,597.3 C271.8,597.5 269.6,595.0 268.3,593.0 C267.1,591.1 264.7,585.5 263.6,582.7 C262.5,579.8 260.5,574.1 259.8,571.4 C259.2,568.6 258.5,564.0 258.5,562.0 C258.5,560.0 258.8,557.7 259.8,556.3 Z" fill="#4169E1"/>
<path d="M270.6,563.9 C271.4,563.9 273.4,566.1 273.9,567.6 C274.5,569.1 275.0,573.3 274.9,575.1 C274.8,577.0 273.7,581.0 273.0,581.7 C272.3,582.4 270.6,581.5 269.8,580.4 C269.1,579.3 267.7,575.0 267.4,573.3 C267.0,571.6 266.9,568.9 267.4,567.6 C267.8,566.4 269.7,563.9 270.6,563.9 Z" fill="#0000CD"/>
<path d="M301.2,494.3 C301.8,492.3 304.9,494.4 305.9,495.2 C306.9,496.1 307.7,499.7 308.7,500.9 C309.7,502.0 312.1,503.4 313.4,503.7 C314.8,503.9 317.8,503.4 319.1,502.8 C320.3,502.1 322.0,500.1 322.9,499.0 C323.7,497.9 325.1,495.3 325.7,494.3 C326.3,493.3 326.7,490.7 327.5,491.5 C328.3,492.2 331.4,497.4 331.7,499.9 C331.9,502.4 330.1,507.4 329.4,510.3 C328.7,513.2 327.2,517.7 326.6,521.6 C326.0,525.5 325.4,535.8 324.7,539.4 C324.1,543.0 322.8,546.7 321.9,548.8 C321.0,550.9 319.3,554.1 318.2,555.4 C317.0,556.6 314.8,558.6 313.4,558.2 C312.1,557.8 309.1,554.8 307.8,552.6 C306.6,550.3 304.7,544.3 304.0,541.3 C303.4,538.3 303.3,532.6 303.1,530.0 C302.9,527.4 302.7,524.2 302.5,521.6 C302.4,518.9 302.0,513.9 301.8,510.3 C301.6,506.6 300.7,496.3 301.2,494.3 Z" fill="#DEB887"/>
<path d="M307.8,491.5 C305.3,492.9 308.7,498.1 309.7,499.9 C310.7,501.8 312.3,502.4 313.8,502.8 C315.4,503.1 317.6,502.8 319.1,502.0 C320.5,501.2 321.5,499.8 322.5,498.1 C323.4,496.3 327.2,492.6 324.7,491.5 C322.3,490.4 310.3,490.1 307.8,491.5 Z" fill="#F5E6BF"/>
<path d="M317.2,488.7 C318.1,488.3 319.2,489.6 319.5,491.5 C319.8,493.4 319.6,498.4 319.1,499.9 C318.6,501.5 317.1,501.0 316.3,500.9 C315.4,500.7 314.1,500.3 313.8,499.0 C313.5,497.7 313.8,495.1 314.4,493.4 C315.0,491.6 316.4,489.0 317.2,488.7 Z" fill="#94BC32"/>
<path d="M311.6,509.3 C313.3,508.8 317.6,509.4 319.1,510.3 C320.6,511.2 322.1,513.4 322.9,515.9 C323.6,518.4 324.5,527.2 324.7,529.1 C324.9,531.0 324.6,528.6 324.4,530.0 C324.1,531.4 323.6,536.9 322.9,539.4 C322.2,541.9 320.2,546.9 319.1,548.8 C318.0,550.8 315.6,553.8 314.4,554.1 C313.1,554.3 310.8,552.4 309.7,550.7 C308.6,549.0 306.6,544.0 305.9,541.3 C305.2,538.5 304.7,532.1 304.4,530.0 C304.2,527.9 303.8,527.5 304.0,525.3 C304.2,523.2 304.9,516.2 305.9,514.0 C306.9,511.9 309.8,509.8 311.6,509.3 Z" fill="#FFD700"/>
<path d="M312.5,513.7 C313.9,513.2 317.0,513.2 318.2,514.0 C319.3,514.8 320.7,517.7 321.3,519.7 C322.0,521.7 322.7,527.7 322.9,529.1 C323.1,530.5 323.0,529.1 322.9,530.0 C322.7,530.9 322.5,533.6 321.9,535.6 C321.3,537.6 319.2,543.2 318.2,545.0 C317.1,546.9 315.4,549.4 314.4,549.7 C313.4,550.1 311.6,549.2 310.6,547.9 C309.7,546.5 308.1,541.8 307.4,539.4 C306.8,537.0 306.1,531.6 305.9,530.0 C305.7,528.4 305.7,528.8 305.9,527.2 C306.2,525.6 306.9,519.6 307.8,517.8 C308.7,516.0 311.1,514.2 312.5,513.7 Z" fill="#FFA500"/>
<path d="M313.4,516.9 C314.6,516.5 317.2,517.6 318.2,518.7 C319.1,519.9 320.2,523.8 320.6,525.3 C321.0,526.8 321.0,528.9 321.0,530.0 C320.9,531.1 320.5,532.3 320.0,533.8 C319.5,535.3 318.0,539.7 317.2,541.3 C316.5,542.9 315.1,545.6 314.4,546.0 C313.6,546.4 312.3,545.2 311.6,544.1 C310.8,543.0 309.2,539.4 308.7,537.5 C308.2,535.6 307.9,531.1 307.8,530.0 C307.7,528.9 307.6,530.2 307.8,529.1 C308.0,528.0 308.6,523.2 309.3,521.6 C310.1,519.9 312.3,517.2 313.4,516.9 Z" fill="#FF4500"/>
<path d="M313.4,524.4 L318.2,525.0 L316.3,530.6 L314.4,528.2 Z" fill="#B22222"/>
</g>
<rect x="214.2" y="424.3" width="220.8" height="220.99999999999994" fill="none" stroke="#000" stroke-width="1.5"/>
<path d="M400.13,645.3 v6.3 M400.13,424.3 v-6.3 M362.37,645.3 v6.3 M362.37,424.3 v-6.3 M324.60,645.3 v6.3 M324.60,424.3 v-6.3 M286.83,645.3 v6.3 M286.83,424.3 v-6.3 M249.07,645.3 v6.3 M249.07,424.3 v-6.3 M214.2,424.30 h-6.7 M214.2,456.49 h-6.7 M214.2,477.70 h-6.7 M214.2,500.18 h-6.7 M214.2,525.73 h-6.7 M214.2,543.87 h-6.7 M214.2,557.93 h-6.7 M214.2,569.42 h-6.7 M214.2,587.55 h-6.7 M214.2,601.61 h-6.7 M214.2,622.82 h-6.7 M214.2,635.06 h-6.7 M214.2,645.30 h-6.7 M435.0,462.80 h6.5 M435.0,502.50 h6.5 M435.0,542.20 h6.5 M435.0,580.50 h6.5 M435.0,615.00 h6.5" stroke="#000" stroke-width="1.15" fill="none"/>
<path d="M425.31,645.3 v3.4 M425.31,424.3 v-3.4 M412.72,645.3 v3.4 M412.72,424.3 v-3.4 M387.54,645.3 v3.4 M387.54,424.3 v-3.4 M374.95,645.3 v3.4 M374.95,424.3 v-3.4 M349.78,645.3 v3.4 M349.78,424.3 v-3.4 M337.19,645.3 v3.4 M337.19,424.3 v-3.4 M312.01,645.3 v3.4 M312.01,424.3 v-3.4 M299.42,645.3 v3.4 M299.42,424.3 v-3.4 M274.25,645.3 v3.4 M274.25,424.3 v-3.4 M261.66,645.3 v3.4 M261.66,424.3 v-3.4 M236.48,645.3 v3.4 M236.48,424.3 v-3.4 M223.89,645.3 v3.4 M223.89,424.3 v-3.4" stroke="#222" stroke-width="0.8" fill="none"/>
<text x="202.6" y="427.3" font-family='"Liberation Sans", sans-serif' font-size="8.4" text-anchor="end" fill="#111" font-weight="normal" textLength="10.5" lengthAdjust="spacingAndGlyphs" stroke="#111" stroke-width="0.2">30</text>
<text x="202.6" y="459.4946667239022" font-family='"Liberation Sans", sans-serif' font-size="8.4" text-anchor="end" fill="#111" font-weight="normal" textLength="10.5" lengthAdjust="spacingAndGlyphs" stroke="#111" stroke-width="0.2">50</text>
<text x="202.6" y="480.7007515714162" font-family='"Liberation Sans", sans-serif' font-size="8.4" text-anchor="end" fill="#111" font-weight="normal" textLength="10.5" lengthAdjust="spacingAndGlyphs" stroke="#111" stroke-width="0.2">70</text>
<text x="202.6" y="503.1801073723585" font-family='"Liberation Sans", sans-serif' font-size="8.4" text-anchor="end" fill="#111" font-weight="normal" textLength="15.8" lengthAdjust="spacingAndGlyphs" stroke="#111" stroke-width="0.2">100</text>
<text x="202.6" y="528.7344519791851" font-family='"Liberation Sans", sans-serif' font-size="8.4" text-anchor="end" fill="#111" font-weight="normal" textLength="15.8" lengthAdjust="spacingAndGlyphs" stroke="#111" stroke-width="0.2">150</text>
<text x="202.6" y="546.8655480208148" font-family='"Liberation Sans", sans-serif' font-size="8.4" text-anchor="end" fill="#111" font-weight="normal" textLength="15.8" lengthAdjust="spacingAndGlyphs" stroke="#111" stroke-width="0.2">200</text>
<text x="202.6" y="560.9291187030873" font-family='"Liberation Sans", sans-serif' font-size="8.4" text-anchor="end" fill="#111" font-weight="normal" textLength="15.8" lengthAdjust="spacingAndGlyphs" stroke="#111" stroke-width="0.2">250</text>
<text x="202.6" y="572.4198926276415" font-family='"Liberation Sans", sans-serif' font-size="8.4" text-anchor="end" fill="#111" font-weight="normal" textLength="15.8" lengthAdjust="spacingAndGlyphs" stroke="#111" stroke-width="0.2">300</text>
<text x="202.6" y="590.5509886692712" font-family='"Liberation Sans", sans-serif' font-size="8.4" text-anchor="end" fill="#111" font-weight="normal" textLength="15.8" lengthAdjust="spacingAndGlyphs" stroke="#111" stroke-width="0.2">400</text>
<text x="202.6" y="604.6145593515437" font-family='"Liberation Sans", sans-serif' font-size="8.4" text-anchor="end" fill="#111" font-weight="normal" textLength="15.8" lengthAdjust="spacingAndGlyphs" stroke="#111" stroke-width="0.2">500</text>
<text x="202.6" y="625.8206441990577" font-family='"Liberation Sans", sans-serif' font-size="8.4" text-anchor="end" fill="#111" font-weight="normal" textLength="15.8" lengthAdjust="spacingAndGlyphs" stroke="#111" stroke-width="0.2">700</text>
<text x="202.6" y="638.0572820781146" font-family='"Liberation Sans", sans-serif' font-size="8.4" text-anchor="end" fill="#111" font-weight="normal" textLength="15.8" lengthAdjust="spacingAndGlyphs" stroke="#111" stroke-width="0.2">850</text>
<text x="202.6" y="648.3" font-family='"Liberation Sans", sans-serif' font-size="8.4" text-anchor="end" fill="#111" font-weight="normal" textLength="21.1" lengthAdjust="spacingAndGlyphs" stroke="#111" stroke-width="0.2">1000</text>
<text x="446.1" y="465.85" font-family='"Liberation Sans", sans-serif' font-size="8.6" text-anchor="start" fill="#111" font-weight="normal" textLength="10.6" lengthAdjust="spacingAndGlyphs" stroke="#111" stroke-width="0.2">20</text>
<text x="446.1" y="505.55" font-family='"Liberation Sans", sans-serif' font-size="8.6" text-anchor="start" fill="#111" font-weight="normal" textLength="10.6" lengthAdjust="spacingAndGlyphs" stroke="#111" stroke-width="0.2">16</text>
<text x="446.1" y="545.25" font-family='"Liberation Sans", sans-serif' font-size="8.6" text-anchor="start" fill="#111" font-weight="normal" textLength="10.6" lengthAdjust="spacingAndGlyphs" stroke="#111" stroke-width="0.2">12</text>
<text x="446.1" y="583.55" font-family='"Liberation Sans", sans-serif' font-size="8.6" text-anchor="start" fill="#111" font-weight="normal" textLength="5.3" lengthAdjust="spacingAndGlyphs" stroke="#111" stroke-width="0.2">8</text>
<text x="446.1" y="618.05" font-family='"Liberation Sans", sans-serif' font-size="8.6" text-anchor="start" fill="#111" font-weight="normal" textLength="5.3" lengthAdjust="spacingAndGlyphs" stroke="#111" stroke-width="0.2">4</text>
<text x="249.06978335233754" y="663.4" font-family='"Liberation Sans", sans-serif' font-size="8.8" text-anchor="middle" fill="#111" font-weight="normal" textLength="16.6" lengthAdjust="spacingAndGlyphs" stroke="#111" stroke-width="0.2">60N</text>
<text x="286.8348916761688" y="663.4" font-family='"Liberation Sans", sans-serif' font-size="8.8" text-anchor="middle" fill="#111" font-weight="normal" textLength="16.6" lengthAdjust="spacingAndGlyphs" stroke="#111" stroke-width="0.2">30N</text>
<text x="324.6" y="663.4" font-family='"Liberation Sans", sans-serif' font-size="8.8" text-anchor="middle" fill="#111" font-weight="normal" textLength="5.5" lengthAdjust="spacingAndGlyphs" stroke="#111" stroke-width="0.2">0</text>
<text x="362.36510832383124" y="663.4" font-family='"Liberation Sans", sans-serif' font-size="8.8" text-anchor="middle" fill="#111" font-weight="normal" textLength="16.6" lengthAdjust="spacingAndGlyphs" stroke="#111" stroke-width="0.2">30S</text>
<text x="400.1302166476625" y="663.4" font-family='"Liberation Sans", sans-serif' font-size="8.8" text-anchor="middle" fill="#111" font-weight="normal" textLength="16.6" lengthAdjust="spacingAndGlyphs" stroke="#111" stroke-width="0.2">60S</text>
<text x="0" y="0" font-family='"Liberation Serif", serif' font-size="15" text-anchor="middle" fill="#3a3a3a" font-weight="normal" textLength="107" lengthAdjust="spacingAndGlyphs" transform="translate(173.7,534.8) rotate(-90)">Pressure (mb)</text>
<text x="0" y="0" font-family='"Liberation Serif", serif' font-size="15" text-anchor="middle" fill="#3a3a3a" font-weight="normal" textLength="90" lengthAdjust="spacingAndGlyphs" transform="translate(473.4,534.8) rotate(-90)">Height (km)</text>
<text x="247" y="395.7" font-family='"Liberation Serif", serif' font-size="14.5" text-anchor="start" fill="#3a3a3a" font-weight="normal" textLength="73.7" lengthAdjust="spacingAndGlyphs" >b01.01ibis</text>
<text x="329.3" y="395.7" font-family='"Liberation Serif", serif' font-size="14.5" text-anchor="start" fill="#3a3a3a" font-weight="normal" textLength="8.6" lengthAdjust="spacingAndGlyphs" >−</text>
<text x="346.9" y="395.7" font-family='"Liberation Serif", serif' font-size="14.5" text-anchor="start" fill="#3a3a3a" font-weight="normal" textLength="56.1" lengthAdjust="spacingAndGlyphs" >b30.004</text>
<text x="213.2" y="414.7" font-family='"Liberation Serif", serif' font-size="13.5" text-anchor="start" fill="#3a3a3a" font-weight="normal" textLength="67.8" lengthAdjust="spacingAndGlyphs" >Stationary</text>
<text x="290.7" y="414.7" font-family='"Liberation Serif", serif' font-size="13.5" text-anchor="start" fill="#3a3a3a" font-weight="normal" textLength="27.5" lengthAdjust="spacingAndGlyphs" >eddy</text>
<text x="328.0" y="414.7" font-family='"Liberation Serif", serif' font-size="13.5" text-anchor="start" fill="#3a3a3a" font-weight="normal" textLength="79.6" lengthAdjust="spacingAndGlyphs" >momentum</text>
<text x="436.0" y="414.7" font-family='"Liberation Serif", serif' font-size="13.5" text-anchor="end" fill="#3a3a3a" font-weight="normal" textLength="155" lengthAdjust="spacingAndGlyphs" >m~S~2~N~/s~S~2~N~</text>
<rect x="55.80" y="332.5" width="13.45" height="19.5" fill="#9370DB" stroke="#111" stroke-width="0.7"/>
<rect x="69.25" y="332.5" width="13.45" height="19.5" fill="#0000CD" stroke="#111" stroke-width="0.7"/>
<rect x="82.70" y="332.5" width="13.45" height="19.5" fill="#4169E1" stroke="#111" stroke-width="0.7"/>
<rect x="96.15" y="332.5" width="13.45" height="19.5" fill="#6E97EE" stroke="#111" stroke-width="0.7"/>
<rect x="109.60" y="332.5" width="13.45" height="19.5" fill="#B0E0E6" stroke="#111" stroke-width="0.7"/>
<rect x="123.05" y="332.5" width="13.45" height="19.5" fill="#20B2AA" stroke="#111" stroke-width="0.7"/>
<rect x="136.50" y="332.5" width="13.45" height="19.5" fill="#B3EE5C" stroke="#111" stroke-width="0.7"/>
<rect x="149.95" y="332.5" width="13.45" height="19.5" fill="#94BC32" stroke="#111" stroke-width="0.7"/>
<rect x="163.40" y="332.5" width="13.45" height="19.5" fill="#F5E6BF" stroke="#111" stroke-width="0.7"/>
<rect x="176.85" y="332.5" width="13.45" height="19.5" fill="#DEB887" stroke="#111" stroke-width="0.7"/>
<rect x="190.30" y="332.5" width="13.45" height="19.5" fill="#FFD700" stroke="#111" stroke-width="0.7"/>
<rect x="203.75" y="332.5" width="13.45" height="19.5" fill="#FFA500" stroke="#111" stroke-width="0.7"/>
<rect x="217.20" y="332.5" width="13.45" height="19.5" fill="#FF4500" stroke="#111" stroke-width="0.7"/>
<rect x="230.65" y="332.5" width="13.45" height="19.5" fill="#B22222" stroke="#111" stroke-width="0.7"/>
<rect x="244.10" y="332.5" width="13.45" height="19.5" fill="#FFB6C1" stroke="#111" stroke-width="0.7"/>
<rect x="257.55" y="332.5" width="13.45" height="19.5" fill="#FF1493" stroke="#111" stroke-width="0.7"/>
<text x="69.25" y="364.6" font-family='"Liberation Sans", sans-serif' font-size="10" text-anchor="middle" fill="#111" font-weight="normal" textLength="19.5" lengthAdjust="spacingAndGlyphs" >−30</text>
<text x="96.14999999999999" y="364.6" font-family='"Liberation Sans", sans-serif' font-size="10" text-anchor="middle" fill="#111" font-weight="normal" textLength="19.5" lengthAdjust="spacingAndGlyphs" >−20</text>
<text x="123.05" y="364.6" font-family='"Liberation Sans", sans-serif' font-size="10" text-anchor="middle" fill="#111" font-weight="normal" textLength="19.5" lengthAdjust="spacingAndGlyphs" >−10</text>
<text x="149.95" y="364.6" font-family='"Liberation Sans", sans-serif' font-size="10" text-anchor="middle" fill="#111" font-weight="normal" textLength="13.0" lengthAdjust="spacingAndGlyphs" >−2</text>
<text x="176.85" y="364.6" font-family='"Liberation Sans", sans-serif' font-size="10" text-anchor="middle" fill="#111" font-weight="normal" textLength="5.8" lengthAdjust="spacingAndGlyphs" >2</text>
<text x="203.75" y="364.6" font-family='"Liberation Sans", sans-serif' font-size="10" text-anchor="middle" fill="#111" font-weight="normal" textLength="11.6" lengthAdjust="spacingAndGlyphs" >10</text>
<text x="230.64999999999998" y="364.6" font-family='"Liberation Sans", sans-serif' font-size="10" text-anchor="middle" fill="#111" font-weight="normal" textLength="11.6" lengthAdjust="spacingAndGlyphs" >20</text>
<text x="257.55" y="364.6" font-family='"Liberation Sans", sans-serif' font-size="10" text-anchor="middle" fill="#111" font-weight="normal" textLength="11.6" lengthAdjust="spacingAndGlyphs" >30</text>
<text x="77.8" y="321.4" font-family='"Liberation Serif", serif' font-size="11.9" text-anchor="start" fill="#3a3a3a" font-weight="normal" textLength="19.2" lengthAdjust="spacingAndGlyphs" >MIN</text>
<text x="104.8" y="321.4" font-family='"Liberation Serif", serif' font-size="11.9" text-anchor="start" fill="#3a3a3a" font-weight="normal" textLength="7.2" lengthAdjust="spacingAndGlyphs" >=</text>
<text x="119.4" y="321.4" font-family='"Liberation Serif", serif' font-size="11.9" text-anchor="start" fill="#3a3a3a" font-weight="normal" textLength="39.2" lengthAdjust="spacingAndGlyphs" >−23.72</text>
<text x="170.7" y="321.4" font-family='"Liberation Serif", serif' font-size="11.9" text-anchor="start" fill="#3a3a3a" font-weight="normal" textLength="22.2" lengthAdjust="spacingAndGlyphs" >MAX</text>
<text x="199.5" y="321.4" font-family='"Liberation Serif", serif' font-size="11.9" text-anchor="start" fill="#3a3a3a" font-weight="normal" textLength="7.2" lengthAdjust="spacingAndGlyphs" >=</text>
<text x="219.2" y="321.4" font-family='"Liberation Serif", serif' font-size="11.9" text-anchor="start" fill="#3a3a3a" font-weight="normal" textLength="30.9" lengthAdjust="spacingAndGlyphs" >36.07</text>
<rect x="377.30" y="332.5" width="13.45" height="19.5" fill="#9370DB" stroke="#111" stroke-width="0.7"/>
<rect x="390.75" y="332.5" width="13.45" height="19.5" fill="#0000CD" stroke="#111" stroke-width="0.7"/>
<rect x="404.20" y="332.5" width="13.45" height="19.5" fill="#4169E1" stroke="#111" stroke-width="0.7"/>
<rect x="417.65" y="332.5" width="13.45" height="19.5" fill="#6E97EE" stroke="#111" stroke-width="0.7"/>
<rect x="431.10" y="332.5" width="13.45" height="19.5" fill="#B0E0E6" stroke="#111" stroke-width="0.7"/>
<rect x="444.55" y="332.5" width="13.45" height="19.5" fill="#20B2AA" stroke="#111" stroke-width="0.7"/>
<rect x="458.00" y="332.5" width="13.45" height="19.5" fill="#B3EE5C" stroke="#111" stroke-width="0.7"/>
<rect x="471.45" y="332.5" width="13.45" height="19.5" fill="#94BC32" stroke="#111" stroke-width="0.7"/>
<rect x="484.90" y="332.5" width="13.45" height="19.5" fill="#F5E6BF" stroke="#111" stroke-width="0.7"/>
<rect x="498.35" y="332.5" width="13.45" height="19.5" fill="#DEB887" stroke="#111" stroke-width="0.7"/>
<rect x="511.80" y="332.5" width="13.45" height="19.5" fill="#FFD700" stroke="#111" stroke-width="0.7"/>
<rect x="525.25" y="332.5" width="13.45" height="19.5" fill="#FFA500" stroke="#111" stroke-width="0.7"/>
<rect x="538.70" y="332.5" width="13.45" height="19.5" fill="#FF4500" stroke="#111" stroke-width="0.7"/>
<rect x="552.15" y="332.5" width="13.45" height="19.5" fill="#B22222" stroke="#111" stroke-width="0.7"/>
<rect x="565.60" y="332.5" width="13.45" height="19.5" fill="#FFB6C1" stroke="#111" stroke-width="0.7"/>
<rect x="579.05" y="332.5" width="13.45" height="19.5" fill="#FF1493" stroke="#111" stroke-width="0.7"/>
<text x="390.75" y="364.6" font-family='"Liberation Sans", sans-serif' font-size="10" text-anchor="middle" fill="#111" font-weight="normal" textLength="19.5" lengthAdjust="spacingAndGlyphs" >−30</text>
<text x="417.65" y="364.6" font-family='"Liberation Sans", sans-serif' font-size="10" text-anchor="middle" fill="#111" font-weight="normal" textLength="19.5" lengthAdjust="spacingAndGlyphs" >−20</text>
<text x="444.55" y="364.6" font-family='"Liberation Sans", sans-serif' font-size="10" text-anchor="middle" fill="#111" font-weight="normal" textLength="19.5" lengthAdjust="spacingAndGlyphs" >−10</text>
<text x="471.45" y="364.6" font-family='"Liberation Sans", sans-serif' font-size="10" text-anchor="middle" fill="#111" font-weight="normal" textLength="13.0" lengthAdjust="spacingAndGlyphs" >−2</text>
<text x="498.35" y="364.6" font-family='"Liberation Sans", sans-serif' font-size="10" text-anchor="middle" fill="#111" font-weight="normal" textLength="5.8" lengthAdjust="spacingAndGlyphs" >2</text>
<text x="525.25" y="364.6" font-family='"Liberation Sans", sans-serif' font-size="10" text-anchor="middle" fill="#111" font-weight="normal" textLength="11.6" lengthAdjust="spacingAndGlyphs" >10</text>
<text x="552.15" y="364.6" font-family='"Liberation Sans", sans-serif' font-size="10" text-anchor="middle" fill="#111" font-weight="normal" textLength="11.6" lengthAdjust="spacingAndGlyphs" >20</text>
<text x="579.05" y="364.6" font-family='"Liberation Sans", sans-serif' font-size="10" text-anchor="middle" fill="#111" font-weight="normal" textLength="11.6" lengthAdjust="spacingAndGlyphs" >30</text>
<text x="399.35" y="321.4" font-family='"Liberation Serif", serif' font-size="11.9" text-anchor="start" fill="#3a3a3a" font-weight="normal" textLength="19.2" lengthAdjust="spacingAndGlyphs" >MIN</text>
<text x="426.35" y="321.4" font-family='"Liberation Serif", serif' font-size="11.9" text-anchor="start" fill="#3a3a3a" font-weight="normal" textLength="7.2" lengthAdjust="spacingAndGlyphs" >=</text>
<text x="440.95000000000005" y="321.4" font-family='"Liberation Serif", serif' font-size="11.9" text-anchor="start" fill="#3a3a3a" font-weight="normal" textLength="39.2" lengthAdjust="spacingAndGlyphs" >−30.39</text>
<text x="492.25" y="321.4" font-family='"Liberation Serif", serif' font-size="11.9" text-anchor="start" fill="#3a3a3a" font-weight="normal" textLength="22.2" lengthAdjust="spacingAndGlyphs" >MAX</text>
<text x="521.05" y="321.4" font-family='"Liberation Serif", serif' font-size="11.9" text-anchor="start" fill="#3a3a3a" font-weight="normal" textLength="7.2" lengthAdjust="spacingAndGlyphs" >=</text>
<text x="540.75" y="321.4" font-family='"Liberation Serif", serif' font-size="11.9" text-anchor="start" fill="#3a3a3a" font-weight="normal" textLength="30.9" lengthAdjust="spacingAndGlyphs" >41.80</text>
<rect x="522.3" y="465.20" width="31.2" height="11.11" fill="#FF1493" stroke="#111" stroke-width="0.7"/>
<rect x="522.3" y="476.31" width="31.2" height="11.11" fill="#FFB6C1" stroke="#111" stroke-width="0.7"/>
<rect x="522.3" y="487.43" width="31.2" height="11.11" fill="#B22222" stroke="#111" stroke-width="0.7"/>
<rect x="522.3" y="498.54" width="31.2" height="11.11" fill="#FF4500" stroke="#111" stroke-width="0.7"/>
<rect x="522.3" y="509.65" width="31.2" height="11.11" fill="#FFA500" stroke="#111" stroke-width="0.7"/>
<rect x="522.3" y="520.76" width="31.2" height="11.11" fill="#FFD700" stroke="#111" stroke-width="0.7"/>
<rect x="522.3" y="531.88" width="31.2" height="11.11" fill="#DEB887" stroke="#111" stroke-width="0.7"/>
<rect x="522.3" y="542.99" width="31.2" height="11.11" fill="#F5E6BF" stroke="#111" stroke-width="0.7"/>
<rect x="522.3" y="554.10" width="31.2" height="11.11" fill="#94BC32" stroke="#111" stroke-width="0.7"/>
<rect x="522.3" y="565.21" width="31.2" height="11.11" fill="#B3EE5C" stroke="#111" stroke-width="0.7"/>
<rect x="522.3" y="576.33" width="31.2" height="11.11" fill="#20B2AA" stroke="#111" stroke-width="0.7"/>
<rect x="522.3" y="587.44" width="31.2" height="11.11" fill="#B0E0E6" stroke="#111" stroke-width="0.7"/>
<rect x="522.3" y="598.55" width="31.2" height="11.11" fill="#6E97EE" stroke="#111" stroke-width="0.7"/>
<rect x="522.3" y="609.66" width="31.2" height="11.11" fill="#4169E1" stroke="#111" stroke-width="0.7"/>
<rect x="522.3" y="620.77" width="31.2" height="11.11" fill="#0000CD" stroke="#111" stroke-width="0.7"/>
<rect x="522.3" y="631.89" width="31.2" height="11.11" fill="#9370DB" stroke="#111" stroke-width="0.7"/>
<text x="566.7" y="480.1125" font-family='"Liberation Sans", sans-serif' font-size="9.3" text-anchor="middle" fill="#111" font-weight="normal" textLength="11.8" lengthAdjust="spacingAndGlyphs" >10</text>
<text x="566.7" y="491.225" font-family='"Liberation Sans", sans-serif' font-size="9.3" text-anchor="middle" fill="#111" font-weight="normal" textLength="5.9" lengthAdjust="spacingAndGlyphs" >8</text>
<text x="566.7" y="502.33750000000003" font-family='"Liberation Sans", sans-serif' font-size="9.3" text-anchor="middle" fill="#111" font-weight="normal" textLength="5.9" lengthAdjust="spacingAndGlyphs" >6</text>
<text x="566.7" y="513.4499999999999" font-family='"Liberation Sans", sans-serif' font-size="9.3" text-anchor="middle" fill="#111" font-weight="normal" textLength="5.9" lengthAdjust="spacingAndGlyphs" >4</text>
<text x="566.7" y="524.5625" font-family='"Liberation Sans", sans-serif' font-size="9.3" text-anchor="middle" fill="#111" font-weight="normal" textLength="5.9" lengthAdjust="spacingAndGlyphs" >3</text>
<text x="566.7" y="535.675" font-family='"Liberation Sans", sans-serif' font-size="9.3" text-anchor="middle" fill="#111" font-weight="normal" textLength="5.9" lengthAdjust="spacingAndGlyphs" >2</text>
<text x="566.7" y="546.7874999999999" font-family='"Liberation Sans", sans-serif' font-size="9.3" text-anchor="middle" fill="#111" font-weight="normal" textLength="5.9" lengthAdjust="spacingAndGlyphs" >1</text>
<text x="566.7" y="557.9" font-family='"Liberation Sans", sans-serif' font-size="9.3" text-anchor="middle" fill="#111" font-weight="normal" textLength="5.9" lengthAdjust="spacingAndGlyphs" >0</text>
<text x="566.7" y="569.0124999999999" font-family='"Liberation Sans", sans-serif' font-size="9.3" text-anchor="middle" fill="#111" font-weight="normal" textLength="13.0" lengthAdjust="spacingAndGlyphs" >−1</text>
<text x="566.7" y="580.125" font-family='"Liberation Sans", sans-serif' font-size="9.3" text-anchor="middle" fill="#111" font-weight="normal" textLength="13.0" lengthAdjust="spacingAndGlyphs" >−2</text>
<text x="566.7" y="591.2375" font-family='"Liberation Sans", sans-serif' font-size="9.3" text-anchor="middle" fill="#111" font-weight="normal" textLength="13.0" lengthAdjust="spacingAndGlyphs" >−3</text>
<text x="566.7" y="602.3499999999999" font-family='"Liberation Sans", sans-serif' font-size="9.3" text-anchor="middle" fill="#111" font-weight="normal" textLength="13.0" lengthAdjust="spacingAndGlyphs" >−4</text>
<text x="566.7" y="613.4625" font-family='"Liberation Sans", sans-serif' font-size="9.3" text-anchor="middle" fill="#111" font-weight="normal" textLength="13.0" lengthAdjust="spacingAndGlyphs" >−6</text>
<text x="566.7" y="624.5749999999999" font-family='"Liberation Sans", sans-serif' font-size="9.3" text-anchor="middle" fill="#111" font-weight="normal" textLength="13.0" lengthAdjust="spacingAndGlyphs" >−8</text>
<text x="566.7" y="635.6875" font-family='"Liberation Sans", sans-serif' font-size="9.3" text-anchor="middle" fill="#111" font-weight="normal" textLength="19.5" lengthAdjust="spacingAndGlyphs" >−10</text>
<text x="465.1" y="446.9" font-family='"Liberation Serif", serif' font-size="11.9" text-anchor="start" fill="#3a3a3a" font-weight="normal" textLength="19.1" lengthAdjust="spacingAndGlyphs" >MIN</text>
<text x="491.9" y="446.9" font-family='"Liberation Serif", serif' font-size="11.9" text-anchor="start" fill="#3a3a3a" font-weight="normal" textLength="7.0" lengthAdjust="spacingAndGlyphs" >=</text>
<text x="512.2" y="446.9" font-family='"Liberation Serif", serif' font-size="11.9" text-anchor="start" fill="#3a3a3a" font-weight="normal" textLength="31.9" lengthAdjust="spacingAndGlyphs" >−8.62</text>
<text x="556.2" y="446.9" font-family='"Liberation Serif", serif' font-size="11.9" text-anchor="start" fill="#3a3a3a" font-weight="normal" textLength="21.7" lengthAdjust="spacingAndGlyphs" >MAX</text>
<text x="585.5" y="446.9" font-family='"Liberation Serif", serif' font-size="11.9" text-anchor="start" fill="#3a3a3a" font-weight="normal" textLength="7.1" lengthAdjust="spacingAndGlyphs" >=</text>
<text x="610.9" y="446.9" font-family='"Liberation Serif", serif' font-size="11.9" text-anchor="start" fill="#3a3a3a" font-weight="normal" textLength="23.5" lengthAdjust="spacingAndGlyphs" >6.67</text>
</svg>
</body></html>
